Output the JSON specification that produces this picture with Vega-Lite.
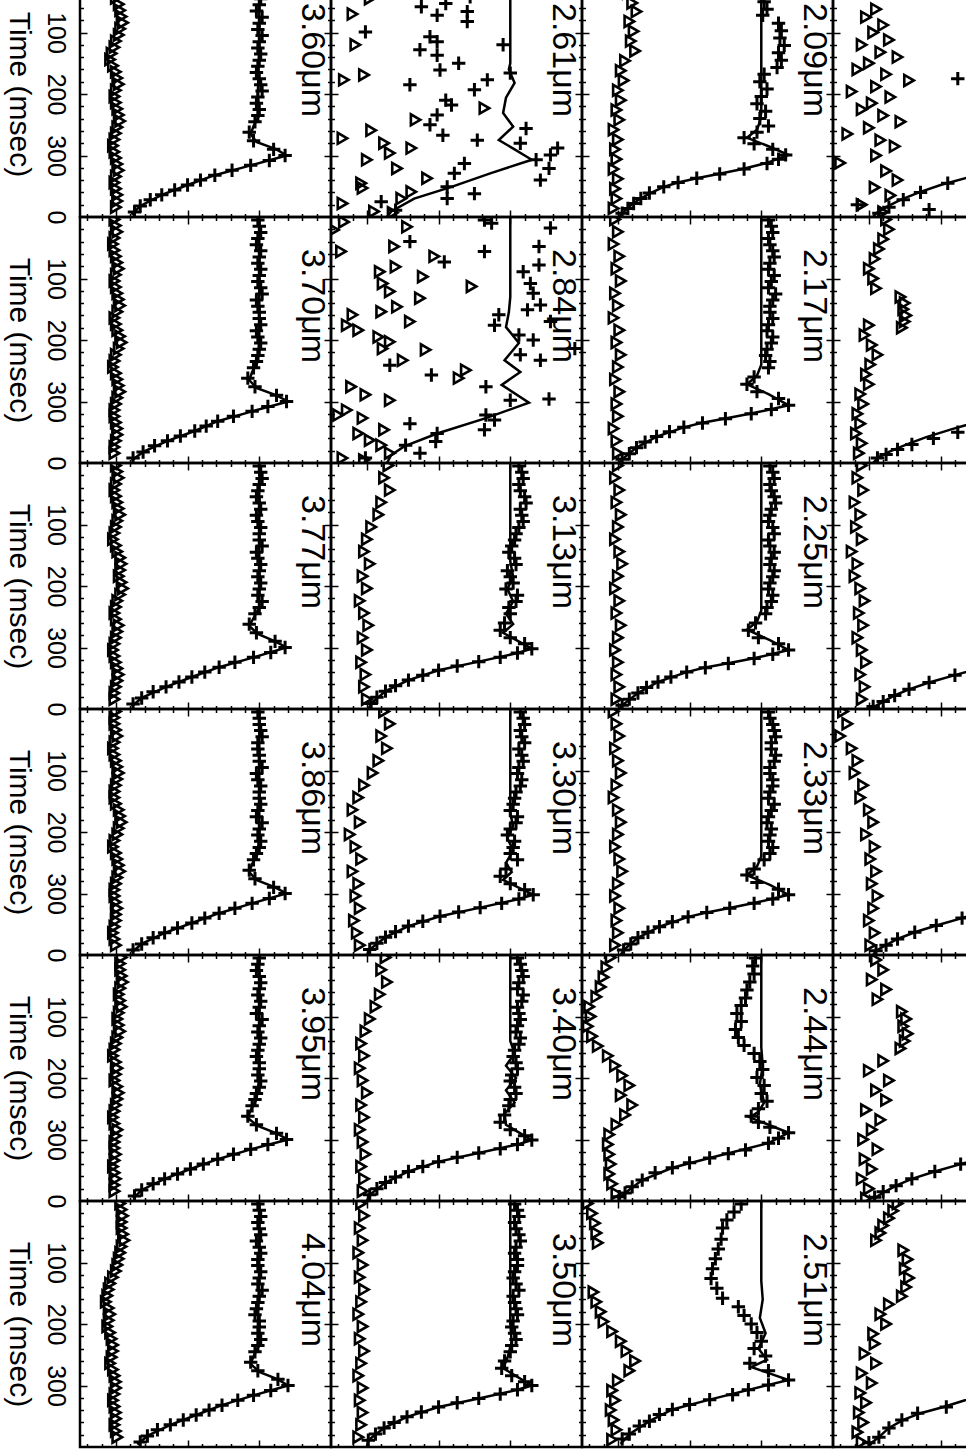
{
"$schema":"https://vega.github.io/schema/vega-lite/v6.json",
"padding":{"left":3,"top":-36,"right":0,"bottom":0},
"background":"white",
"config":{"view":{"stroke":"black","strokeWidth":2.5},"axis":{"tickColor":"black","tickWidth":1.5,"domain":false,"grid":false,"labels":false},"font":"Liberation Sans"},
"data":{"values":[
{"p":0,"s":"T","w":"3.60μm"},{"p":4,"s":"T","w":"3.70μm"},{"p":8,"s":"T","w":"3.77μm"},{"p":12,"s":"T","w":"3.86μm"},{"p":16,"s":"T","w":"3.95μm"},{"p":20,"s":"T","w":"4.04μm"},
{"p":1,"s":"T","w":"2.61μm"},{"p":5,"s":"T","w":"2.84μm"},{"p":9,"s":"T","w":"3.13μm"},{"p":13,"s":"T","w":"3.30μm"},{"p":17,"s":"T","w":"3.40μm"},{"p":21,"s":"T","w":"3.50μm"},
{"p":2,"s":"T","w":"2.09μm"},{"p":6,"s":"T","w":"2.17μm"},{"p":10,"s":"T","w":"2.25μm"},{"p":14,"s":"T","w":"2.33μm"},{"p":18,"s":"T","w":"2.44μm"},{"p":22,"s":"T","w":"2.51μm"},

{"p":0,"s":"+","t":5,"v":1.0},{"p":0,"s":"+","t":25,"v":0.99},{"p":0,"s":"+","t":45,"v":1.01},{"p":0,"s":"+","t":65,"v":0.98},{"p":0,"s":"+","t":85,"v":1.0},{"p":0,"s":"+","t":105,"v":1.02},{"p":0,"s":"+","t":125,"v":0.99},{"p":0,"s":"+","t":145,"v":1.0},{"p":0,"s":"+","t":165,"v":0.98},{"p":0,"s":"+","t":185,"v":1.01},{"p":0,"s":"+","t":205,"v":0.99},{"p":0,"s":"+","t":225,"v":1.0},{"p":0,"s":"+","t":245,"v":0.97},{"p":0,"s":"+","t":262,"v":0.93},{"p":0,"s":"+","t":276,"v":0.96},{"p":0,"s":"+","t":290,"v":1.1},{"p":0,"s":"+","t":300,"v":1.18},{"p":0,"s":"+","t":308,"v":1.07},{"p":0,"s":"+","t":316,"v":0.94},{"p":0,"s":"+","t":324,"v":0.81},{"p":0,"s":"+","t":332,"v":0.69},{"p":0,"s":"+","t":340,"v":0.59},{"p":0,"s":"+","t":348,"v":0.5},{"p":0,"s":"+","t":356,"v":0.41},{"p":0,"s":"+","t":364,"v":0.32},{"p":0,"s":"+","t":372,"v":0.24},{"p":0,"s":"+","t":382,"v":0.17},{"p":0,"s":"+","t":392,"v":0.13},
{"p":0,"s":"^","t":4,"v":0.01},{"p":0,"s":"^","t":24,"v":-0.02},{"p":0,"s":"^","t":44,"v":0.0},{"p":0,"s":"^","t":64,"v":0.03},{"p":0,"s":"^","t":84,"v":0.05},{"p":0,"s":"^","t":104,"v":0.02},{"p":0,"s":"^","t":124,"v":-0.01},{"p":0,"s":"^","t":144,"v":-0.04},{"p":0,"s":"^","t":164,"v":0.0},{"p":0,"s":"^","t":184,"v":0.02},{"p":0,"s":"^","t":204,"v":-0.01},{"p":0,"s":"^","t":224,"v":0.01},{"p":0,"s":"^","t":244,"v":0.03},{"p":0,"s":"^","t":264,"v":0.0},{"p":0,"s":"^","t":284,"v":-0.02},{"p":0,"s":"^","t":304,"v":0.0},{"p":0,"s":"^","t":324,"v":0.02},{"p":0,"s":"^","t":344,"v":-0.01},{"p":0,"s":"^","t":364,"v":0.01},{"p":0,"s":"^","t":384,"v":0.0},
{"p":0,"s":"L","t":0,"v":1.0},{"p":0,"s":"L","t":120,"v":1.0},{"p":0,"s":"L","t":200,"v":0.99},{"p":0,"s":"L","t":235,"v":1.0},{"p":0,"s":"L","t":252,"v":0.96},{"p":0,"s":"L","t":265,"v":0.94},{"p":0,"s":"L","t":278,"v":0.98},{"p":0,"s":"L","t":290,"v":1.12},{"p":0,"s":"L","t":300,"v":1.19},{"p":0,"s":"L","t":316,"v":0.94},{"p":0,"s":"L","t":332,"v":0.69},{"p":0,"s":"L","t":348,"v":0.5},{"p":0,"s":"L","t":364,"v":0.32},{"p":0,"s":"L","t":382,"v":0.17},{"p":0,"s":"L","t":396,"v":0.11},

{"p":4,"s":"+","t":5,"v":0.99},{"p":4,"s":"+","t":25,"v":1.01},{"p":4,"s":"+","t":45,"v":0.98},{"p":4,"s":"+","t":65,"v":1.0},{"p":4,"s":"+","t":85,"v":1.01},{"p":4,"s":"+","t":105,"v":0.99},{"p":4,"s":"+","t":125,"v":1.02},{"p":4,"s":"+","t":145,"v":0.99},{"p":4,"s":"+","t":165,"v":1.0},{"p":4,"s":"+","t":185,"v":0.98},{"p":4,"s":"+","t":205,"v":1.01},{"p":4,"s":"+","t":225,"v":0.99},{"p":4,"s":"+","t":245,"v":0.96},{"p":4,"s":"+","t":262,"v":0.92},{"p":4,"s":"+","t":276,"v":0.97},{"p":4,"s":"+","t":290,"v":1.12},{"p":4,"s":"+","t":300,"v":1.19},{"p":4,"s":"+","t":308,"v":1.06},{"p":4,"s":"+","t":316,"v":0.95},{"p":4,"s":"+","t":324,"v":0.82},{"p":4,"s":"+","t":332,"v":0.71},{"p":4,"s":"+","t":340,"v":0.63},{"p":4,"s":"+","t":348,"v":0.55},{"p":4,"s":"+","t":356,"v":0.45},{"p":4,"s":"+","t":364,"v":0.36},{"p":4,"s":"+","t":372,"v":0.27},{"p":4,"s":"+","t":382,"v":0.19},{"p":4,"s":"+","t":392,"v":0.12},
{"p":4,"s":"^","t":4,"v":-0.01},{"p":4,"s":"^","t":24,"v":0.01},{"p":4,"s":"^","t":44,"v":-0.02},{"p":4,"s":"^","t":64,"v":0.0},{"p":4,"s":"^","t":84,"v":0.02},{"p":4,"s":"^","t":104,"v":-0.01},{"p":4,"s":"^","t":124,"v":0.01},{"p":4,"s":"^","t":144,"v":0.03},{"p":4,"s":"^","t":164,"v":-0.01},{"p":4,"s":"^","t":184,"v":0.01},{"p":4,"s":"^","t":204,"v":0.04},{"p":4,"s":"^","t":224,"v":0.0},{"p":4,"s":"^","t":244,"v":-0.02},{"p":4,"s":"^","t":264,"v":0.01},{"p":4,"s":"^","t":284,"v":0.03},{"p":4,"s":"^","t":304,"v":0.0},{"p":4,"s":"^","t":324,"v":-0.01},{"p":4,"s":"^","t":344,"v":0.01},{"p":4,"s":"^","t":364,"v":0.0},{"p":4,"s":"^","t":384,"v":-0.01},
{"p":4,"s":"L","t":0,"v":1.0},{"p":4,"s":"L","t":120,"v":1.0},{"p":4,"s":"L","t":200,"v":1.0},{"p":4,"s":"L","t":235,"v":0.99},{"p":4,"s":"L","t":252,"v":0.95},{"p":4,"s":"L","t":265,"v":0.93},{"p":4,"s":"L","t":278,"v":0.98},{"p":4,"s":"L","t":290,"v":1.12},{"p":4,"s":"L","t":300,"v":1.2},{"p":4,"s":"L","t":316,"v":0.95},{"p":4,"s":"L","t":332,"v":0.71},{"p":4,"s":"L","t":348,"v":0.55},{"p":4,"s":"L","t":364,"v":0.36},{"p":4,"s":"L","t":382,"v":0.19},{"p":4,"s":"L","t":396,"v":0.11},

{"p":8,"s":"+","t":5,"v":1.0},{"p":8,"s":"+","t":25,"v":1.02},{"p":8,"s":"+","t":45,"v":0.99},{"p":8,"s":"+","t":65,"v":1.0},{"p":8,"s":"+","t":85,"v":0.98},{"p":8,"s":"+","t":105,"v":1.01},{"p":8,"s":"+","t":125,"v":1.0},{"p":8,"s":"+","t":145,"v":0.98},{"p":8,"s":"+","t":165,"v":1.01},{"p":8,"s":"+","t":185,"v":0.99},{"p":8,"s":"+","t":205,"v":1.0},{"p":8,"s":"+","t":225,"v":1.02},{"p":8,"s":"+","t":245,"v":0.97},{"p":8,"s":"+","t":262,"v":0.93},{"p":8,"s":"+","t":276,"v":0.98},{"p":8,"s":"+","t":290,"v":1.11},{"p":8,"s":"+","t":300,"v":1.18},{"p":8,"s":"+","t":308,"v":1.08},{"p":8,"s":"+","t":316,"v":0.96},{"p":8,"s":"+","t":324,"v":0.83},{"p":8,"s":"+","t":332,"v":0.72},{"p":8,"s":"+","t":340,"v":0.62},{"p":8,"s":"+","t":348,"v":0.53},{"p":8,"s":"+","t":356,"v":0.44},{"p":8,"s":"+","t":364,"v":0.35},{"p":8,"s":"+","t":372,"v":0.26},{"p":8,"s":"+","t":382,"v":0.18},{"p":8,"s":"+","t":392,"v":0.12},
{"p":8,"s":"^","t":4,"v":0.0},{"p":8,"s":"^","t":24,"v":0.02},{"p":8,"s":"^","t":44,"v":-0.01},{"p":8,"s":"^","t":64,"v":0.01},{"p":8,"s":"^","t":84,"v":0.03},{"p":8,"s":"^","t":104,"v":0.0},{"p":8,"s":"^","t":124,"v":-0.02},{"p":8,"s":"^","t":144,"v":0.01},{"p":8,"s":"^","t":164,"v":0.04},{"p":8,"s":"^","t":184,"v":0.02},{"p":8,"s":"^","t":204,"v":0.05},{"p":8,"s":"^","t":224,"v":0.01},{"p":8,"s":"^","t":244,"v":-0.01},{"p":8,"s":"^","t":264,"v":0.02},{"p":8,"s":"^","t":284,"v":0.0},{"p":8,"s":"^","t":304,"v":-0.02},{"p":8,"s":"^","t":324,"v":0.0},{"p":8,"s":"^","t":344,"v":0.02},{"p":8,"s":"^","t":364,"v":0.0},{"p":8,"s":"^","t":384,"v":-0.01},
{"p":8,"s":"L","t":0,"v":1.0},{"p":8,"s":"L","t":120,"v":1.0},{"p":8,"s":"L","t":200,"v":1.0},{"p":8,"s":"L","t":235,"v":1.0},{"p":8,"s":"L","t":252,"v":0.96},{"p":8,"s":"L","t":265,"v":0.93},{"p":8,"s":"L","t":278,"v":0.99},{"p":8,"s":"L","t":290,"v":1.11},{"p":8,"s":"L","t":300,"v":1.19},{"p":8,"s":"L","t":316,"v":0.96},{"p":8,"s":"L","t":332,"v":0.72},{"p":8,"s":"L","t":348,"v":0.53},{"p":8,"s":"L","t":364,"v":0.35},{"p":8,"s":"L","t":382,"v":0.18},{"p":8,"s":"L","t":396,"v":0.11},

{"p":12,"s":"+","t":5,"v":0.99},{"p":12,"s":"+","t":25,"v":1.0},{"p":12,"s":"+","t":45,"v":1.02},{"p":12,"s":"+","t":65,"v":0.99},{"p":12,"s":"+","t":85,"v":1.0},{"p":12,"s":"+","t":105,"v":0.98},{"p":12,"s":"+","t":125,"v":1.01},{"p":12,"s":"+","t":145,"v":1.0},{"p":12,"s":"+","t":165,"v":0.99},{"p":12,"s":"+","t":185,"v":1.02},{"p":12,"s":"+","t":205,"v":0.99},{"p":12,"s":"+","t":225,"v":1.0},{"p":12,"s":"+","t":245,"v":0.96},{"p":12,"s":"+","t":262,"v":0.93},{"p":12,"s":"+","t":276,"v":0.97},{"p":12,"s":"+","t":290,"v":1.1},{"p":12,"s":"+","t":300,"v":1.18},{"p":12,"s":"+","t":308,"v":1.07},{"p":12,"s":"+","t":316,"v":0.95},{"p":12,"s":"+","t":324,"v":0.83},{"p":12,"s":"+","t":332,"v":0.72},{"p":12,"s":"+","t":340,"v":0.62},{"p":12,"s":"+","t":348,"v":0.53},{"p":12,"s":"+","t":356,"v":0.43},{"p":12,"s":"+","t":364,"v":0.34},{"p":12,"s":"+","t":372,"v":0.26},{"p":12,"s":"+","t":382,"v":0.18},{"p":12,"s":"+","t":392,"v":0.12},
{"p":12,"s":"^","t":4,"v":0.0},{"p":12,"s":"^","t":24,"v":-0.01},{"p":12,"s":"^","t":44,"v":0.01},{"p":12,"s":"^","t":64,"v":-0.02},{"p":12,"s":"^","t":84,"v":0.0},{"p":12,"s":"^","t":104,"v":0.02},{"p":12,"s":"^","t":124,"v":0.0},{"p":12,"s":"^","t":144,"v":-0.01},{"p":12,"s":"^","t":164,"v":0.02},{"p":12,"s":"^","t":184,"v":0.04},{"p":12,"s":"^","t":204,"v":0.01},{"p":12,"s":"^","t":224,"v":-0.02},{"p":12,"s":"^","t":244,"v":0.01},{"p":12,"s":"^","t":264,"v":0.03},{"p":12,"s":"^","t":284,"v":0.0},{"p":12,"s":"^","t":304,"v":-0.01},{"p":12,"s":"^","t":324,"v":0.01},{"p":12,"s":"^","t":344,"v":0.0},{"p":12,"s":"^","t":364,"v":-0.02},{"p":12,"s":"^","t":384,"v":0.0},
{"p":12,"s":"L","t":0,"v":1.0},{"p":12,"s":"L","t":120,"v":1.0},{"p":12,"s":"L","t":200,"v":1.0},{"p":12,"s":"L","t":235,"v":0.99},{"p":12,"s":"L","t":252,"v":0.95},{"p":12,"s":"L","t":265,"v":0.93},{"p":12,"s":"L","t":278,"v":0.98},{"p":12,"s":"L","t":290,"v":1.11},{"p":12,"s":"L","t":300,"v":1.19},{"p":12,"s":"L","t":316,"v":0.95},{"p":12,"s":"L","t":332,"v":0.72},{"p":12,"s":"L","t":348,"v":0.53},{"p":12,"s":"L","t":364,"v":0.34},{"p":12,"s":"L","t":382,"v":0.18},{"p":12,"s":"L","t":396,"v":0.11},

{"p":16,"s":"+","t":5,"v":1.0},{"p":16,"s":"+","t":25,"v":0.98},{"p":16,"s":"+","t":45,"v":1.01},{"p":16,"s":"+","t":65,"v":0.99},{"p":16,"s":"+","t":85,"v":1.0},{"p":16,"s":"+","t":105,"v":1.02},{"p":16,"s":"+","t":125,"v":0.99},{"p":16,"s":"+","t":145,"v":1.0},{"p":16,"s":"+","t":165,"v":0.98},{"p":16,"s":"+","t":185,"v":1.0},{"p":16,"s":"+","t":205,"v":1.01},{"p":16,"s":"+","t":225,"v":0.98},{"p":16,"s":"+","t":245,"v":0.95},{"p":16,"s":"+","t":262,"v":0.92},{"p":16,"s":"+","t":276,"v":0.98},{"p":16,"s":"+","t":290,"v":1.12},{"p":16,"s":"+","t":300,"v":1.19},{"p":16,"s":"+","t":308,"v":1.06},{"p":16,"s":"+","t":316,"v":0.94},{"p":16,"s":"+","t":324,"v":0.82},{"p":16,"s":"+","t":332,"v":0.71},{"p":16,"s":"+","t":340,"v":0.61},{"p":16,"s":"+","t":348,"v":0.52},{"p":16,"s":"+","t":356,"v":0.43},{"p":16,"s":"+","t":364,"v":0.34},{"p":16,"s":"+","t":372,"v":0.26},{"p":16,"s":"+","t":382,"v":0.18},{"p":16,"s":"+","t":392,"v":0.13},
{"p":16,"s":"^","t":4,"v":0.04},{"p":16,"s":"^","t":24,"v":0.03},{"p":16,"s":"^","t":44,"v":0.05},{"p":16,"s":"^","t":64,"v":0.02},{"p":16,"s":"^","t":84,"v":0.04},{"p":16,"s":"^","t":104,"v":0.01},{"p":16,"s":"^","t":124,"v":0.03},{"p":16,"s":"^","t":144,"v":0.0},{"p":16,"s":"^","t":164,"v":-0.02},{"p":16,"s":"^","t":184,"v":0.01},{"p":16,"s":"^","t":204,"v":-0.01},{"p":16,"s":"^","t":224,"v":0.02},{"p":16,"s":"^","t":244,"v":0.0},{"p":16,"s":"^","t":264,"v":-0.02},{"p":16,"s":"^","t":284,"v":0.01},{"p":16,"s":"^","t":304,"v":-0.01},{"p":16,"s":"^","t":324,"v":0.0},{"p":16,"s":"^","t":344,"v":-0.02},{"p":16,"s":"^","t":364,"v":0.0},{"p":16,"s":"^","t":384,"v":-0.01},
{"p":16,"s":"L","t":0,"v":1.0},{"p":16,"s":"L","t":120,"v":1.0},{"p":16,"s":"L","t":200,"v":1.0},{"p":16,"s":"L","t":235,"v":0.98},{"p":16,"s":"L","t":252,"v":0.94},{"p":16,"s":"L","t":265,"v":0.92},{"p":16,"s":"L","t":278,"v":0.99},{"p":16,"s":"L","t":290,"v":1.12},{"p":16,"s":"L","t":300,"v":1.2},{"p":16,"s":"L","t":316,"v":0.94},{"p":16,"s":"L","t":332,"v":0.71},{"p":16,"s":"L","t":348,"v":0.52},{"p":16,"s":"L","t":364,"v":0.34},{"p":16,"s":"L","t":382,"v":0.18},{"p":16,"s":"L","t":396,"v":0.12},

{"p":20,"s":"+","t":5,"v":0.99},{"p":20,"s":"+","t":25,"v":1.01},{"p":20,"s":"+","t":45,"v":1.0},{"p":20,"s":"+","t":65,"v":0.98},{"p":20,"s":"+","t":85,"v":1.01},{"p":20,"s":"+","t":105,"v":0.99},{"p":20,"s":"+","t":125,"v":1.0},{"p":20,"s":"+","t":145,"v":1.02},{"p":20,"s":"+","t":165,"v":0.99},{"p":20,"s":"+","t":185,"v":0.97},{"p":20,"s":"+","t":205,"v":1.0},{"p":20,"s":"+","t":225,"v":1.01},{"p":20,"s":"+","t":245,"v":0.97},{"p":20,"s":"+","t":262,"v":0.94},{"p":20,"s":"+","t":276,"v":0.99},{"p":20,"s":"+","t":290,"v":1.13},{"p":20,"s":"+","t":300,"v":1.2},{"p":20,"s":"+","t":308,"v":1.08},{"p":20,"s":"+","t":316,"v":0.96},{"p":20,"s":"+","t":324,"v":0.85},{"p":20,"s":"+","t":332,"v":0.74},{"p":20,"s":"+","t":340,"v":0.65},{"p":20,"s":"+","t":348,"v":0.56},{"p":20,"s":"+","t":356,"v":0.47},{"p":20,"s":"+","t":364,"v":0.38},{"p":20,"s":"+","t":372,"v":0.29},{"p":20,"s":"+","t":382,"v":0.22},{"p":20,"s":"+","t":392,"v":0.17},
{"p":20,"s":"^","t":4,"v":0.03},{"p":20,"s":"^","t":24,"v":0.05},{"p":20,"s":"^","t":44,"v":0.04},{"p":20,"s":"^","t":64,"v":0.06},{"p":20,"s":"^","t":84,"v":0.03},{"p":20,"s":"^","t":104,"v":0.01},{"p":20,"s":"^","t":124,"v":-0.02},{"p":20,"s":"^","t":144,"v":-0.05},{"p":20,"s":"^","t":164,"v":-0.07},{"p":20,"s":"^","t":184,"v":-0.04},{"p":20,"s":"^","t":204,"v":-0.06},{"p":20,"s":"^","t":224,"v":-0.03},{"p":20,"s":"^","t":244,"v":-0.02},{"p":20,"s":"^","t":264,"v":-0.04},{"p":20,"s":"^","t":284,"v":-0.01},{"p":20,"s":"^","t":304,"v":0.0},{"p":20,"s":"^","t":324,"v":-0.02},{"p":20,"s":"^","t":344,"v":0.0},{"p":20,"s":"^","t":364,"v":-0.01},{"p":20,"s":"^","t":384,"v":0.01},
{"p":20,"s":"L","t":0,"v":1.0},{"p":20,"s":"L","t":120,"v":1.0},{"p":20,"s":"L","t":200,"v":0.99},{"p":20,"s":"L","t":235,"v":1.0},{"p":20,"s":"L","t":252,"v":0.96},{"p":20,"s":"L","t":265,"v":0.94},{"p":20,"s":"L","t":278,"v":1.0},{"p":20,"s":"L","t":290,"v":1.13},{"p":20,"s":"L","t":300,"v":1.2},{"p":20,"s":"L","t":316,"v":0.96},{"p":20,"s":"L","t":332,"v":0.74},{"p":20,"s":"L","t":348,"v":0.56},{"p":20,"s":"L","t":364,"v":0.38},{"p":20,"s":"L","t":382,"v":0.22},{"p":20,"s":"L","t":396,"v":0.15},

{"p":1,"s":"+","t":35,"v":0.62},{"p":1,"s":"+","t":42,"v":0.72},{"p":1,"s":"+","t":58,"v":0.38},{"p":1,"s":"+","t":53,"v":0.55},{"p":1,"s":"+","t":66,"v":0.7},{"p":1,"s":"+","t":82,"v":0.7},{"p":1,"s":"+","t":72,"v":0.49},{"p":1,"s":"+","t":99,"v":-0.01},{"p":1,"s":"+","t":107,"v":0.44},{"p":1,"s":"+","t":115,"v":0.49},{"p":1,"s":"+","t":128,"v":0.37},{"p":1,"s":"+","t":137,"v":0.49},{"p":1,"s":"+","t":161,"v":0.51},{"p":1,"s":"+","t":150,"v":0.64},{"p":1,"s":"+","t":120,"v":0.95},{"p":1,"s":"+","t":166,"v":1.0},{"p":1,"s":"+","t":185,"v":0.3},{"p":1,"s":"+","t":193,"v":0.75},{"p":1,"s":"+","t":177,"v":0.84},{"p":1,"s":"+","t":210,"v":0.55},{"p":1,"s":"+","t":218,"v":0.59},{"p":1,"s":"+","t":234,"v":0.49},{"p":1,"s":"+","t":250,"v":0.44},{"p":1,"s":"+","t":267,"v":0.53},{"p":1,"s":"+","t":275,"v":0.77},{"p":1,"s":"+","t":256,"v":1.11},{"p":1,"s":"+","t":280,"v":1.07},{"p":1,"s":"+","t":288,"v":1.33},{"p":1,"s":"+","t":299,"v":1.28},{"p":1,"s":"+","t":307,"v":1.18},{"p":1,"s":"+","t":321,"v":1.27},{"p":1,"s":"+","t":340,"v":1.21},{"p":1,"s":"+","t":313,"v":0.68},{"p":1,"s":"+","t":329,"v":0.61},{"p":1,"s":"+","t":351,"v":0.56},{"p":1,"s":"+","t":370,"v":0.56},{"p":1,"s":"+","t":362,"v":0.75},{"p":1,"s":"+","t":375,"v":0.1},{"p":1,"s":"+","t":389,"v":0.2},
{"p":1,"s":"^","t":45,"v":0.02},{"p":1,"s":"^","t":70,"v":-0.1},{"p":1,"s":"^","t":120,"v":-0.08},{"p":1,"s":"^","t":169,"v":-0.02},{"p":1,"s":"^","t":177,"v":-0.16},{"p":1,"s":"^","t":223,"v":0.82},{"p":1,"s":"^","t":242,"v":0.34},{"p":1,"s":"^","t":259,"v":0.03},{"p":1,"s":"^","t":272,"v":-0.17},{"p":1,"s":"^","t":280,"v":0.12},{"p":1,"s":"^","t":288,"v":0.31},{"p":1,"s":"^","t":296,"v":0.16},{"p":1,"s":"^","t":307,"v":0.0},{"p":1,"s":"^","t":321,"v":0.21},{"p":1,"s":"^","t":345,"v":-0.04},{"p":1,"s":"^","t":353,"v":-0.03},{"p":1,"s":"^","t":337,"v":0.42},{"p":1,"s":"^","t":359,"v":0.31},{"p":1,"s":"^","t":370,"v":0.24},{"p":1,"s":"^","t":378,"v":-0.17},{"p":1,"s":"^","t":391,"v":0.05},{"p":1,"s":"^","t":393,"v":0.18},
{"p":1,"s":"L","t":0,"v":1.0},{"p":1,"s":"L","t":150,"v":1.0},{"p":1,"s":"L","t":160,"v":0.99},{"p":1,"s":"L","t":182,"v":1.03},{"p":1,"s":"L","t":206,"v":0.97},{"p":1,"s":"L","t":231,"v":0.95},{"p":1,"s":"L","t":253,"v":1.02},{"p":1,"s":"L","t":275,"v":0.92},{"p":1,"s":"L","t":290,"v":1.03},{"p":1,"s":"L","t":307,"v":1.15},{"p":1,"s":"L","t":329,"v":0.86},{"p":1,"s":"L","t":351,"v":0.59},{"p":1,"s":"L","t":370,"v":0.33},{"p":1,"s":"L","t":391,"v":0.17},{"p":1,"s":"L","t":400,"v":0.14},

{"p":5,"s":"+","t":5,"v":0.82},{"p":5,"s":"+","t":10,"v":0.87},{"p":5,"s":"+","t":18,"v":1.28},{"p":5,"s":"+","t":40,"v":0.3},{"p":5,"s":"+","t":56,"v":0.82},{"p":5,"s":"+","t":73,"v":0.54},{"p":5,"s":"+","t":48,"v":1.2},{"p":5,"s":"+","t":78,"v":1.2},{"p":5,"s":"+","t":89,"v":1.09},{"p":5,"s":"+","t":108,"v":1.14},{"p":5,"s":"+","t":124,"v":1.16},{"p":5,"s":"+","t":143,"v":1.21},{"p":5,"s":"+","t":151,"v":1.12},{"p":5,"s":"+","t":159,"v":0.92},{"p":5,"s":"+","t":176,"v":0.89},{"p":5,"s":"+","t":192,"v":1.06},{"p":5,"s":"+","t":200,"v":1.16},{"p":5,"s":"+","t":170,"v":1.28},{"p":5,"s":"+","t":224,"v":1.07},{"p":5,"s":"+","t":233,"v":1.21},{"p":5,"s":"+","t":214,"v":1.45},{"p":5,"s":"+","t":241,"v":0.16},{"p":5,"s":"+","t":257,"v":0.45},{"p":5,"s":"+","t":276,"v":0.83},{"p":5,"s":"+","t":298,"v":1.0},{"p":5,"s":"+","t":296,"v":1.27},{"p":5,"s":"+","t":322,"v":0.83},{"p":5,"s":"+","t":330,"v":0.89},{"p":5,"s":"+","t":346,"v":0.82},{"p":5,"s":"+","t":352,"v":0.49},{"p":5,"s":"+","t":365,"v":0.48},{"p":5,"s":"+","t":336,"v":0.3},{"p":5,"s":"+","t":371,"v":0.27},{"p":5,"s":"+","t":384,"v":0.37},{"p":5,"s":"+","t":392,"v":-0.01},
{"p":5,"s":"^","t":21,"v":-0.23},{"p":5,"s":"^","t":8,"v":-0.16},{"p":5,"s":"^","t":16,"v":0.28},{"p":5,"s":"^","t":48,"v":0.19},{"p":5,"s":"^","t":56,"v":-0.18},{"p":5,"s":"^","t":64,"v":0.47},{"p":5,"s":"^","t":81,"v":0.2},{"p":5,"s":"^","t":89,"v":0.09},{"p":5,"s":"^","t":97,"v":0.39},{"p":5,"s":"^","t":113,"v":0.73},{"p":5,"s":"^","t":108,"v":0.11},{"p":5,"s":"^","t":121,"v":0.16},{"p":5,"s":"^","t":132,"v":0.37},{"p":5,"s":"^","t":146,"v":0.21},{"p":5,"s":"^","t":154,"v":0.1},{"p":5,"s":"^","t":170,"v":0.3},{"p":5,"s":"^","t":159,"v":-0.1},{"p":5,"s":"^","t":176,"v":-0.14},{"p":5,"s":"^","t":184,"v":-0.06},{"p":5,"s":"^","t":195,"v":0.08},{"p":5,"s":"^","t":203,"v":0.16},{"p":5,"s":"^","t":214,"v":0.11},{"p":5,"s":"^","t":216,"v":0.41},{"p":5,"s":"^","t":233,"v":0.25},{"p":5,"s":"^","t":249,"v":0.69},{"p":5,"s":"^","t":262,"v":0.64},{"p":5,"s":"^","t":276,"v":-0.11},{"p":5,"s":"^","t":289,"v":-0.01},{"p":5,"s":"^","t":298,"v":0.16},{"p":5,"s":"^","t":322,"v":-0.2},{"p":5,"s":"^","t":314,"v":-0.14},{"p":5,"s":"^","t":327,"v":-0.03},{"p":5,"s":"^","t":352,"v":-0.06},{"p":5,"s":"^","t":346,"v":0.12},{"p":5,"s":"^","t":363,"v":0.02},{"p":5,"s":"^","t":371,"v":0.1},{"p":5,"s":"^","t":384,"v":0.16},{"p":5,"s":"^","t":392,"v":-0.17},{"p":5,"s":"^","t":395,"v":-0.02},
{"p":5,"s":"L","t":0,"v":1.0},{"p":5,"s":"L","t":130,"v":1.0},{"p":5,"s":"L","t":155,"v":0.99},{"p":5,"s":"L","t":179,"v":0.97},{"p":5,"s":"L","t":205,"v":1.06},{"p":5,"s":"L","t":233,"v":0.96},{"p":5,"s":"L","t":252,"v":1.07},{"p":5,"s":"L","t":273,"v":0.94},{"p":5,"s":"L","t":302,"v":1.13},{"p":5,"s":"L","t":327,"v":0.83},{"p":5,"s":"L","t":352,"v":0.49},{"p":5,"s":"L","t":373,"v":0.26},{"p":5,"s":"L","t":387,"v":0.17},{"p":5,"s":"L","t":400,"v":0.14},

{"p":9,"s":"+","t":5,"v":1.06},{"p":9,"s":"+","t":25,"v":1.09},{"p":9,"s":"+","t":45,"v":1.07},{"p":9,"s":"+","t":65,"v":1.11},{"p":9,"s":"+","t":85,"v":1.08},{"p":9,"s":"+","t":105,"v":1.06},{"p":9,"s":"+","t":125,"v":1.03},{"p":9,"s":"+","t":145,"v":0.99},{"p":9,"s":"+","t":165,"v":1.04},{"p":9,"s":"+","t":185,"v":1.0},{"p":9,"s":"+","t":205,"v":0.97},{"p":9,"s":"+","t":225,"v":1.04},{"p":9,"s":"+","t":245,"v":1.0},{"p":9,"s":"+","t":260,"v":0.96},{"p":9,"s":"+","t":272,"v":0.93},{"p":9,"s":"+","t":284,"v":1.0},{"p":9,"s":"+","t":294,"v":1.1},{"p":9,"s":"+","t":302,"v":1.15},{"p":9,"s":"+","t":309,"v":1.05},{"p":9,"s":"+","t":316,"v":0.93},{"p":9,"s":"+","t":323,"v":0.78},{"p":9,"s":"+","t":330,"v":0.63},{"p":9,"s":"+","t":337,"v":0.5},{"p":9,"s":"+","t":345,"v":0.39},{"p":9,"s":"+","t":353,"v":0.29},{"p":9,"s":"+","t":362,"v":0.2},{"p":9,"s":"+","t":371,"v":0.13},{"p":9,"s":"+","t":381,"v":0.07},{"p":9,"s":"+","t":391,"v":0.03},
{"p":9,"s":"^","t":4,"v":0.15},{"p":9,"s":"^","t":24,"v":0.12},{"p":9,"s":"^","t":44,"v":0.16},{"p":9,"s":"^","t":64,"v":0.1},{"p":9,"s":"^","t":84,"v":0.08},{"p":9,"s":"^","t":104,"v":0.03},{"p":9,"s":"^","t":124,"v":0.0},{"p":9,"s":"^","t":144,"v":-0.02},{"p":9,"s":"^","t":164,"v":0.02},{"p":9,"s":"^","t":184,"v":-0.03},{"p":9,"s":"^","t":204,"v":0.0},{"p":9,"s":"^","t":224,"v":-0.05},{"p":9,"s":"^","t":244,"v":-0.02},{"p":9,"s":"^","t":264,"v":0.01},{"p":9,"s":"^","t":284,"v":-0.03},{"p":9,"s":"^","t":304,"v":0.0},{"p":9,"s":"^","t":324,"v":-0.04},{"p":9,"s":"^","t":344,"v":-0.01},{"p":9,"s":"^","t":364,"v":-0.02},{"p":9,"s":"^","t":384,"v":0.0},
{"p":9,"s":"L","t":0,"v":1.0},{"p":9,"s":"L","t":160,"v":1.0},{"p":9,"s":"L","t":185,"v":1.02},{"p":9,"s":"L","t":205,"v":0.98},{"p":9,"s":"L","t":225,"v":1.02},{"p":9,"s":"L","t":245,"v":0.97},{"p":9,"s":"L","t":262,"v":1.02},{"p":9,"s":"L","t":276,"v":0.95},{"p":9,"s":"L","t":302,"v":1.15},{"p":9,"s":"L","t":309,"v":1.05},{"p":9,"s":"L","t":323,"v":0.78},{"p":9,"s":"L","t":337,"v":0.5},{"p":9,"s":"L","t":353,"v":0.29},{"p":9,"s":"L","t":371,"v":0.13},{"p":9,"s":"L","t":391,"v":0.03},{"p":9,"s":"L","t":400,"v":0.01},

{"p":13,"s":"+","t":5,"v":1.07},{"p":13,"s":"+","t":25,"v":1.1},{"p":13,"s":"+","t":45,"v":1.08},{"p":13,"s":"+","t":65,"v":1.06},{"p":13,"s":"+","t":85,"v":1.09},{"p":13,"s":"+","t":105,"v":1.05},{"p":13,"s":"+","t":125,"v":1.07},{"p":13,"s":"+","t":145,"v":1.03},{"p":13,"s":"+","t":165,"v":1.0},{"p":13,"s":"+","t":185,"v":1.04},{"p":13,"s":"+","t":205,"v":0.98},{"p":13,"s":"+","t":225,"v":1.02},{"p":13,"s":"+","t":245,"v":1.05},{"p":13,"s":"+","t":260,"v":0.97},{"p":13,"s":"+","t":272,"v":0.93},{"p":13,"s":"+","t":284,"v":1.0},{"p":13,"s":"+","t":294,"v":1.1},{"p":13,"s":"+","t":302,"v":1.16},{"p":13,"s":"+","t":309,"v":1.06},{"p":13,"s":"+","t":316,"v":0.94},{"p":13,"s":"+","t":323,"v":0.79},{"p":13,"s":"+","t":330,"v":0.64},{"p":13,"s":"+","t":337,"v":0.51},{"p":13,"s":"+","t":345,"v":0.39},{"p":13,"s":"+","t":353,"v":0.29},{"p":13,"s":"+","t":362,"v":0.2},{"p":13,"s":"+","t":371,"v":0.13},{"p":13,"s":"+","t":381,"v":0.07},{"p":13,"s":"+","t":391,"v":0.02},
{"p":13,"s":"^","t":4,"v":0.12},{"p":13,"s":"^","t":24,"v":0.16},{"p":13,"s":"^","t":44,"v":0.1},{"p":13,"s":"^","t":64,"v":0.14},{"p":13,"s":"^","t":84,"v":0.08},{"p":13,"s":"^","t":104,"v":0.04},{"p":13,"s":"^","t":124,"v":-0.02},{"p":13,"s":"^","t":144,"v":-0.06},{"p":13,"s":"^","t":164,"v":-0.1},{"p":13,"s":"^","t":184,"v":-0.05},{"p":13,"s":"^","t":204,"v":-0.12},{"p":13,"s":"^","t":224,"v":-0.08},{"p":13,"s":"^","t":244,"v":-0.04},{"p":13,"s":"^","t":264,"v":-0.1},{"p":13,"s":"^","t":284,"v":-0.06},{"p":13,"s":"^","t":304,"v":-0.08},{"p":13,"s":"^","t":324,"v":-0.05},{"p":13,"s":"^","t":344,"v":-0.09},{"p":13,"s":"^","t":364,"v":-0.07},{"p":13,"s":"^","t":384,"v":-0.05},
{"p":13,"s":"L","t":0,"v":1.0},{"p":13,"s":"L","t":170,"v":1.0},{"p":13,"s":"L","t":190,"v":1.02},{"p":13,"s":"L","t":210,"v":0.98},{"p":13,"s":"L","t":230,"v":1.02},{"p":13,"s":"L","t":250,"v":0.97},{"p":13,"s":"L","t":265,"v":1.01},{"p":13,"s":"L","t":278,"v":0.95},{"p":13,"s":"L","t":302,"v":1.16},{"p":13,"s":"L","t":309,"v":1.06},{"p":13,"s":"L","t":323,"v":0.79},{"p":13,"s":"L","t":337,"v":0.51},{"p":13,"s":"L","t":353,"v":0.29},{"p":13,"s":"L","t":371,"v":0.13},{"p":13,"s":"L","t":391,"v":0.02},{"p":13,"s":"L","t":400,"v":0.0},

{"p":17,"s":"+","t":5,"v":1.05},{"p":17,"s":"+","t":25,"v":1.08},{"p":17,"s":"+","t":45,"v":1.06},{"p":17,"s":"+","t":65,"v":1.09},{"p":17,"s":"+","t":85,"v":1.05},{"p":17,"s":"+","t":105,"v":1.07},{"p":17,"s":"+","t":125,"v":1.04},{"p":17,"s":"+","t":145,"v":1.06},{"p":17,"s":"+","t":165,"v":1.02},{"p":17,"s":"+","t":185,"v":1.05},{"p":17,"s":"+","t":205,"v":1.0},{"p":17,"s":"+","t":225,"v":1.04},{"p":17,"s":"+","t":245,"v":0.99},{"p":17,"s":"+","t":260,"v":0.96},{"p":17,"s":"+","t":272,"v":0.93},{"p":17,"s":"+","t":284,"v":1.0},{"p":17,"s":"+","t":294,"v":1.1},{"p":17,"s":"+","t":301,"v":1.15},{"p":17,"s":"+","t":308,"v":1.05},{"p":17,"s":"+","t":315,"v":0.93},{"p":17,"s":"+","t":322,"v":0.78},{"p":17,"s":"+","t":329,"v":0.63},{"p":17,"s":"+","t":336,"v":0.5},{"p":17,"s":"+","t":344,"v":0.39},{"p":17,"s":"+","t":352,"v":0.29},{"p":17,"s":"+","t":361,"v":0.2},{"p":17,"s":"+","t":370,"v":0.13},{"p":17,"s":"+","t":380,"v":0.07},{"p":17,"s":"+","t":390,"v":0.02},
{"p":17,"s":"^","t":4,"v":0.13},{"p":17,"s":"^","t":24,"v":0.1},{"p":17,"s":"^","t":44,"v":0.14},{"p":17,"s":"^","t":64,"v":0.09},{"p":17,"s":"^","t":84,"v":0.06},{"p":17,"s":"^","t":104,"v":0.02},{"p":17,"s":"^","t":124,"v":-0.01},{"p":17,"s":"^","t":144,"v":-0.04},{"p":17,"s":"^","t":164,"v":-0.02},{"p":17,"s":"^","t":184,"v":-0.05},{"p":17,"s":"^","t":204,"v":-0.03},{"p":17,"s":"^","t":224,"v":0.0},{"p":17,"s":"^","t":244,"v":-0.04},{"p":17,"s":"^","t":264,"v":-0.02},{"p":17,"s":"^","t":284,"v":-0.05},{"p":17,"s":"^","t":304,"v":-0.03},{"p":17,"s":"^","t":324,"v":-0.01},{"p":17,"s":"^","t":344,"v":-0.04},{"p":17,"s":"^","t":364,"v":-0.02},{"p":17,"s":"^","t":384,"v":-0.03},
{"p":17,"s":"L","t":0,"v":1.0},{"p":17,"s":"L","t":140,"v":1.0},{"p":17,"s":"L","t":160,"v":1.03},{"p":17,"s":"L","t":180,"v":0.97},{"p":17,"s":"L","t":200,"v":1.04},{"p":17,"s":"L","t":220,"v":0.97},{"p":17,"s":"L","t":240,"v":1.03},{"p":17,"s":"L","t":258,"v":0.96},{"p":17,"s":"L","t":276,"v":0.97},{"p":17,"s":"L","t":301,"v":1.15},{"p":17,"s":"L","t":308,"v":1.05},{"p":17,"s":"L","t":322,"v":0.78},{"p":17,"s":"L","t":336,"v":0.5},{"p":17,"s":"L","t":352,"v":0.29},{"p":17,"s":"L","t":370,"v":0.13},{"p":17,"s":"L","t":390,"v":0.02},{"p":17,"s":"L","t":400,"v":0.0},

{"p":21,"s":"+","t":5,"v":1.03},{"p":21,"s":"+","t":25,"v":1.06},{"p":21,"s":"+","t":45,"v":1.04},{"p":21,"s":"+","t":65,"v":1.07},{"p":21,"s":"+","t":85,"v":1.03},{"p":21,"s":"+","t":105,"v":1.05},{"p":21,"s":"+","t":125,"v":1.02},{"p":21,"s":"+","t":145,"v":1.06},{"p":21,"s":"+","t":165,"v":1.03},{"p":21,"s":"+","t":185,"v":1.05},{"p":21,"s":"+","t":205,"v":1.01},{"p":21,"s":"+","t":225,"v":1.04},{"p":21,"s":"+","t":245,"v":1.0},{"p":21,"s":"+","t":260,"v":0.96},{"p":21,"s":"+","t":272,"v":0.94},{"p":21,"s":"+","t":284,"v":1.01},{"p":21,"s":"+","t":294,"v":1.1},{"p":21,"s":"+","t":300,"v":1.15},{"p":21,"s":"+","t":307,"v":1.05},{"p":21,"s":"+","t":314,"v":0.93},{"p":21,"s":"+","t":321,"v":0.78},{"p":21,"s":"+","t":328,"v":0.63},{"p":21,"s":"+","t":335,"v":0.5},{"p":21,"s":"+","t":343,"v":0.38},{"p":21,"s":"+","t":351,"v":0.28},{"p":21,"s":"+","t":360,"v":0.19},{"p":21,"s":"+","t":369,"v":0.12},{"p":21,"s":"+","t":379,"v":0.06},{"p":21,"s":"+","t":389,"v":0.01},
{"p":21,"s":"^","t":4,"v":-0.04},{"p":21,"s":"^","t":24,"v":-0.02},{"p":21,"s":"^","t":44,"v":-0.05},{"p":21,"s":"^","t":64,"v":-0.03},{"p":21,"s":"^","t":84,"v":-0.06},{"p":21,"s":"^","t":104,"v":-0.03},{"p":21,"s":"^","t":124,"v":-0.05},{"p":21,"s":"^","t":144,"v":-0.02},{"p":21,"s":"^","t":164,"v":-0.04},{"p":21,"s":"^","t":184,"v":-0.06},{"p":21,"s":"^","t":204,"v":-0.03},{"p":21,"s":"^","t":224,"v":-0.05},{"p":21,"s":"^","t":244,"v":-0.02},{"p":21,"s":"^","t":264,"v":-0.04},{"p":21,"s":"^","t":284,"v":-0.06},{"p":21,"s":"^","t":304,"v":-0.03},{"p":21,"s":"^","t":324,"v":-0.05},{"p":21,"s":"^","t":344,"v":-0.03},{"p":21,"s":"^","t":364,"v":-0.04},{"p":21,"s":"^","t":384,"v":-0.06},
{"p":21,"s":"L","t":0,"v":1.0},{"p":21,"s":"L","t":200,"v":1.0},{"p":21,"s":"L","t":230,"v":1.01},{"p":21,"s":"L","t":255,"v":0.98},{"p":21,"s":"L","t":272,"v":0.95},{"p":21,"s":"L","t":300,"v":1.15},{"p":21,"s":"L","t":307,"v":1.05},{"p":21,"s":"L","t":321,"v":0.78},{"p":21,"s":"L","t":335,"v":0.5},{"p":21,"s":"L","t":351,"v":0.28},{"p":21,"s":"L","t":369,"v":0.12},{"p":21,"s":"L","t":389,"v":0.01},{"p":21,"s":"L","t":400,"v":0.0},

{"p":2,"s":"+","t":5,"v":1.01},{"p":2,"s":"+","t":20,"v":1.0},{"p":2,"s":"+","t":35,"v":0.99},{"p":2,"s":"+","t":50,"v":1.02},{"p":2,"s":"+","t":62,"v":1.04},{"p":2,"s":"+","t":72,"v":1.01},{"p":2,"s":"+","t":85,"v":1.12},{"p":2,"s":"+","t":97,"v":1.14},{"p":2,"s":"+","t":109,"v":1.13},{"p":2,"s":"+","t":121,"v":1.16},{"p":2,"s":"+","t":133,"v":1.12},{"p":2,"s":"+","t":145,"v":1.14},{"p":2,"s":"+","t":157,"v":1.11},{"p":2,"s":"+","t":168,"v":1.02},{"p":2,"s":"+","t":180,"v":0.99},{"p":2,"s":"+","t":192,"v":1.04},{"p":2,"s":"+","t":204,"v":1.0},{"p":2,"s":"+","t":216,"v":0.97},{"p":2,"s":"+","t":228,"v":1.03},{"p":2,"s":"+","t":240,"v":0.99},{"p":2,"s":"+","t":252,"v":1.05},{"p":2,"s":"+","t":262,"v":0.97},{"p":2,"s":"+","t":271,"v":0.88},{"p":2,"s":"+","t":281,"v":0.95},{"p":2,"s":"+","t":290,"v":1.08},{"p":2,"s":"+","t":299,"v":1.17},{"p":2,"s":"+","t":306,"v":1.12},{"p":2,"s":"+","t":313,"v":1.04},{"p":2,"s":"+","t":322,"v":0.88},{"p":2,"s":"+","t":330,"v":0.71},{"p":2,"s":"+","t":337,"v":0.55},{"p":2,"s":"+","t":344,"v":0.42},{"p":2,"s":"+","t":351,"v":0.32},{"p":2,"s":"+","t":361,"v":0.22},{"p":2,"s":"+","t":370,"v":0.16},{"p":2,"s":"+","t":378,"v":0.11},{"p":2,"s":"+","t":386,"v":0.07},{"p":2,"s":"+","t":394,"v":0.03},
{"p":2,"s":"^","t":4,"v":0.08},{"p":2,"s":"^","t":20,"v":0.1},{"p":2,"s":"^","t":36,"v":0.07},{"p":2,"s":"^","t":52,"v":0.1},{"p":2,"s":"^","t":66,"v":0.13},{"p":2,"s":"^","t":82,"v":0.08},{"p":2,"s":"^","t":98,"v":0.11},{"p":2,"s":"^","t":114,"v":0.09},{"p":2,"s":"^","t":130,"v":0.12},{"p":2,"s":"^","t":146,"v":0.05},{"p":2,"s":"^","t":162,"v":0.02},{"p":2,"s":"^","t":178,"v":0.04},{"p":2,"s":"^","t":194,"v":0.0},{"p":2,"s":"^","t":210,"v":0.02},{"p":2,"s":"^","t":226,"v":-0.01},{"p":2,"s":"^","t":242,"v":0.01},{"p":2,"s":"^","t":258,"v":-0.03},{"p":2,"s":"^","t":274,"v":0.0},{"p":2,"s":"^","t":290,"v":-0.02},{"p":2,"s":"^","t":306,"v":-0.01},{"p":2,"s":"^","t":322,"v":-0.03},{"p":2,"s":"^","t":338,"v":0.0},{"p":2,"s":"^","t":354,"v":-0.02},{"p":2,"s":"^","t":370,"v":-0.01},{"p":2,"s":"^","t":386,"v":-0.03},
{"p":2,"s":"L","t":0,"v":1.0},{"p":2,"s":"L","t":230,"v":1.0},{"p":2,"s":"L","t":245,"v":0.99},{"p":2,"s":"L","t":258,"v":0.97},{"p":2,"s":"L","t":271,"v":0.9},{"p":2,"s":"L","t":285,"v":1.05},{"p":2,"s":"L","t":299,"v":1.19},{"p":2,"s":"L","t":312,"v":1.04},{"p":2,"s":"L","t":322,"v":0.87},{"p":2,"s":"L","t":330,"v":0.7},{"p":2,"s":"L","t":337,"v":0.55},{"p":2,"s":"L","t":344,"v":0.42},{"p":2,"s":"L","t":351,"v":0.32},{"p":2,"s":"L","t":362,"v":0.22},{"p":2,"s":"L","t":370,"v":0.16},{"p":2,"s":"L","t":378,"v":0.105},{"p":2,"s":"L","t":386,"v":0.066},{"p":2,"s":"L","t":394,"v":0.03},{"p":2,"s":"L","t":400,"v":0.01},

{"p":6,"s":"+","t":5,"v":1.05},{"p":6,"s":"+","t":25,"v":1.08},{"p":6,"s":"+","t":45,"v":1.06},{"p":6,"s":"+","t":65,"v":1.09},{"p":6,"s":"+","t":85,"v":1.05},{"p":6,"s":"+","t":105,"v":1.07},{"p":6,"s":"+","t":125,"v":1.1},{"p":6,"s":"+","t":145,"v":1.06},{"p":6,"s":"+","t":165,"v":1.08},{"p":6,"s":"+","t":185,"v":1.04},{"p":6,"s":"+","t":205,"v":1.07},{"p":6,"s":"+","t":225,"v":1.03},{"p":6,"s":"+","t":245,"v":1.05},{"p":6,"s":"+","t":260,"v":0.95},{"p":6,"s":"+","t":272,"v":0.9},{"p":6,"s":"+","t":284,"v":0.97},{"p":6,"s":"+","t":295,"v":1.12},{"p":6,"s":"+","t":306,"v":1.19},{"p":6,"s":"+","t":313,"v":1.07},{"p":6,"s":"+","t":320,"v":0.93},{"p":6,"s":"+","t":328,"v":0.75},{"p":6,"s":"+","t":335,"v":0.59},{"p":6,"s":"+","t":342,"v":0.46},{"p":6,"s":"+","t":349,"v":0.36},{"p":6,"s":"+","t":357,"v":0.27},{"p":6,"s":"+","t":366,"v":0.19},{"p":6,"s":"+","t":375,"v":0.13},{"p":6,"s":"+","t":385,"v":0.08},{"p":6,"s":"+","t":394,"v":0.03},
{"p":6,"s":"^","t":4,"v":-0.02},{"p":6,"s":"^","t":24,"v":0.0},{"p":6,"s":"^","t":44,"v":-0.03},{"p":6,"s":"^","t":64,"v":0.01},{"p":6,"s":"^","t":84,"v":-0.01},{"p":6,"s":"^","t":104,"v":0.02},{"p":6,"s":"^","t":124,"v":-0.02},{"p":6,"s":"^","t":144,"v":0.0},{"p":6,"s":"^","t":164,"v":-0.03},{"p":6,"s":"^","t":184,"v":0.01},{"p":6,"s":"^","t":204,"v":-0.01},{"p":6,"s":"^","t":224,"v":0.02},{"p":6,"s":"^","t":244,"v":0.0},{"p":6,"s":"^","t":264,"v":-0.02},{"p":6,"s":"^","t":284,"v":0.01},{"p":6,"s":"^","t":304,"v":-0.01},{"p":6,"s":"^","t":324,"v":0.0},{"p":6,"s":"^","t":344,"v":-0.03},{"p":6,"s":"^","t":364,"v":-0.01},{"p":6,"s":"^","t":384,"v":0.0},
{"p":6,"s":"L","t":0,"v":1.0},{"p":6,"s":"L","t":240,"v":1.0},{"p":6,"s":"L","t":258,"v":0.97},{"p":6,"s":"L","t":272,"v":0.9},{"p":6,"s":"L","t":288,"v":1.05},{"p":6,"s":"L","t":306,"v":1.19},{"p":6,"s":"L","t":313,"v":1.06},{"p":6,"s":"L","t":320,"v":0.92},{"p":6,"s":"L","t":328,"v":0.74},{"p":6,"s":"L","t":335,"v":0.58},{"p":6,"s":"L","t":342,"v":0.46},{"p":6,"s":"L","t":357,"v":0.27},{"p":6,"s":"L","t":375,"v":0.13},{"p":6,"s":"L","t":394,"v":0.03},{"p":6,"s":"L","t":400,"v":0.01},

{"p":10,"s":"+","t":5,"v":1.06},{"p":10,"s":"+","t":25,"v":1.09},{"p":10,"s":"+","t":45,"v":1.07},{"p":10,"s":"+","t":65,"v":1.1},{"p":10,"s":"+","t":85,"v":1.06},{"p":10,"s":"+","t":105,"v":1.08},{"p":10,"s":"+","t":125,"v":1.05},{"p":10,"s":"+","t":145,"v":1.09},{"p":10,"s":"+","t":165,"v":1.06},{"p":10,"s":"+","t":185,"v":1.08},{"p":10,"s":"+","t":205,"v":1.05},{"p":10,"s":"+","t":225,"v":1.07},{"p":10,"s":"+","t":245,"v":1.03},{"p":10,"s":"+","t":260,"v":0.96},{"p":10,"s":"+","t":272,"v":0.91},{"p":10,"s":"+","t":284,"v":0.98},{"p":10,"s":"+","t":294,"v":1.12},{"p":10,"s":"+","t":304,"v":1.19},{"p":10,"s":"+","t":311,"v":1.08},{"p":10,"s":"+","t":318,"v":0.95},{"p":10,"s":"+","t":326,"v":0.77},{"p":10,"s":"+","t":333,"v":0.61},{"p":10,"s":"+","t":340,"v":0.48},{"p":10,"s":"+","t":348,"v":0.37},{"p":10,"s":"+","t":356,"v":0.28},{"p":10,"s":"+","t":365,"v":0.2},{"p":10,"s":"+","t":374,"v":0.14},{"p":10,"s":"+","t":384,"v":0.08},{"p":10,"s":"+","t":394,"v":0.03},
{"p":10,"s":"^","t":4,"v":0.0},{"p":10,"s":"^","t":24,"v":-0.02},{"p":10,"s":"^","t":44,"v":0.01},{"p":10,"s":"^","t":64,"v":-0.01},{"p":10,"s":"^","t":84,"v":0.02},{"p":10,"s":"^","t":104,"v":0.0},{"p":10,"s":"^","t":124,"v":-0.02},{"p":10,"s":"^","t":144,"v":0.01},{"p":10,"s":"^","t":164,"v":0.03},{"p":10,"s":"^","t":184,"v":0.0},{"p":10,"s":"^","t":204,"v":-0.02},{"p":10,"s":"^","t":224,"v":0.01},{"p":10,"s":"^","t":244,"v":-0.01},{"p":10,"s":"^","t":264,"v":0.02},{"p":10,"s":"^","t":284,"v":0.0},{"p":10,"s":"^","t":304,"v":-0.02},{"p":10,"s":"^","t":324,"v":0.0},{"p":10,"s":"^","t":344,"v":-0.01},{"p":10,"s":"^","t":364,"v":0.01},{"p":10,"s":"^","t":384,"v":-0.01},
{"p":10,"s":"L","t":0,"v":1.0},{"p":10,"s":"L","t":240,"v":1.0},{"p":10,"s":"L","t":258,"v":0.97},{"p":10,"s":"L","t":271,"v":0.9},{"p":10,"s":"L","t":288,"v":1.06},{"p":10,"s":"L","t":304,"v":1.19},{"p":10,"s":"L","t":311,"v":1.07},{"p":10,"s":"L","t":318,"v":0.94},{"p":10,"s":"L","t":326,"v":0.76},{"p":10,"s":"L","t":333,"v":0.6},{"p":10,"s":"L","t":340,"v":0.48},{"p":10,"s":"L","t":356,"v":0.28},{"p":10,"s":"L","t":374,"v":0.14},{"p":10,"s":"L","t":394,"v":0.03},{"p":10,"s":"L","t":400,"v":0.01},

{"p":14,"s":"+","t":5,"v":1.05},{"p":14,"s":"+","t":25,"v":1.08},{"p":14,"s":"+","t":45,"v":1.1},{"p":14,"s":"+","t":65,"v":1.07},{"p":14,"s":"+","t":85,"v":1.09},{"p":14,"s":"+","t":105,"v":1.06},{"p":14,"s":"+","t":125,"v":1.08},{"p":14,"s":"+","t":145,"v":1.05},{"p":14,"s":"+","t":165,"v":1.07},{"p":14,"s":"+","t":185,"v":1.04},{"p":14,"s":"+","t":205,"v":1.06},{"p":14,"s":"+","t":225,"v":1.08},{"p":14,"s":"+","t":245,"v":1.02},{"p":14,"s":"+","t":260,"v":0.95},{"p":14,"s":"+","t":270,"v":0.9},{"p":14,"s":"+","t":282,"v":0.97},{"p":14,"s":"+","t":293,"v":1.12},{"p":14,"s":"+","t":302,"v":1.19},{"p":14,"s":"+","t":309,"v":1.08},{"p":14,"s":"+","t":316,"v":0.95},{"p":14,"s":"+","t":324,"v":0.78},{"p":14,"s":"+","t":331,"v":0.62},{"p":14,"s":"+","t":338,"v":0.49},{"p":14,"s":"+","t":346,"v":0.38},{"p":14,"s":"+","t":354,"v":0.29},{"p":14,"s":"+","t":363,"v":0.21},{"p":14,"s":"+","t":372,"v":0.14},{"p":14,"s":"+","t":382,"v":0.09},{"p":14,"s":"+","t":392,"v":0.04},
{"p":14,"s":"^","t":4,"v":-0.03},{"p":14,"s":"^","t":24,"v":-0.01},{"p":14,"s":"^","t":44,"v":0.01},{"p":14,"s":"^","t":64,"v":-0.02},{"p":14,"s":"^","t":84,"v":0.0},{"p":14,"s":"^","t":104,"v":0.02},{"p":14,"s":"^","t":124,"v":-0.01},{"p":14,"s":"^","t":144,"v":-0.03},{"p":14,"s":"^","t":164,"v":0.0},{"p":14,"s":"^","t":184,"v":0.02},{"p":14,"s":"^","t":204,"v":0.0},{"p":14,"s":"^","t":224,"v":-0.02},{"p":14,"s":"^","t":244,"v":0.01},{"p":14,"s":"^","t":264,"v":0.03},{"p":14,"s":"^","t":284,"v":0.0},{"p":14,"s":"^","t":304,"v":-0.02},{"p":14,"s":"^","t":324,"v":0.01},{"p":14,"s":"^","t":344,"v":-0.01},{"p":14,"s":"^","t":364,"v":0.0},{"p":14,"s":"^","t":384,"v":-0.02},
{"p":14,"s":"L","t":0,"v":1.0},{"p":14,"s":"L","t":240,"v":1.0},{"p":14,"s":"L","t":256,"v":0.97},{"p":14,"s":"L","t":270,"v":0.9},{"p":14,"s":"L","t":286,"v":1.06},{"p":14,"s":"L","t":302,"v":1.19},{"p":14,"s":"L","t":309,"v":1.07},{"p":14,"s":"L","t":316,"v":0.94},{"p":14,"s":"L","t":324,"v":0.77},{"p":14,"s":"L","t":331,"v":0.62},{"p":14,"s":"L","t":338,"v":0.49},{"p":14,"s":"L","t":354,"v":0.29},{"p":14,"s":"L","t":372,"v":0.14},{"p":14,"s":"L","t":392,"v":0.04},{"p":14,"s":"L","t":400,"v":0.02},

{"p":18,"s":"+","t":5,"v":0.96},{"p":18,"s":"+","t":18,"v":0.94},{"p":18,"s":"+","t":31,"v":0.95},{"p":18,"s":"+","t":44,"v":0.92},{"p":18,"s":"+","t":57,"v":0.9},{"p":18,"s":"+","t":70,"v":0.89},{"p":18,"s":"+","t":82,"v":0.86},{"p":18,"s":"+","t":95,"v":0.83},{"p":18,"s":"+","t":108,"v":0.86},{"p":18,"s":"+","t":121,"v":0.82},{"p":18,"s":"+","t":134,"v":0.84},{"p":18,"s":"+","t":147,"v":0.88},{"p":18,"s":"+","t":160,"v":0.95},{"p":18,"s":"+","t":173,"v":0.99},{"p":18,"s":"+","t":186,"v":1.01},{"p":18,"s":"+","t":199,"v":0.97},{"p":18,"s":"+","t":212,"v":1.02},{"p":18,"s":"+","t":225,"v":1.0},{"p":18,"s":"+","t":238,"v":1.04},{"p":18,"s":"+","t":250,"v":0.98},{"p":18,"s":"+","t":262,"v":0.93},{"p":18,"s":"+","t":272,"v":0.98},{"p":18,"s":"+","t":280,"v":1.06},{"p":18,"s":"+","t":289,"v":1.19},{"p":18,"s":"+","t":298,"v":1.12},{"p":18,"s":"+","t":306,"v":1.05},{"p":18,"s":"+","t":317,"v":0.89},{"p":18,"s":"+","t":323,"v":0.77},{"p":18,"s":"+","t":330,"v":0.64},{"p":18,"s":"+","t":338,"v":0.5},{"p":18,"s":"+","t":346,"v":0.38},{"p":18,"s":"+","t":354,"v":0.26},{"p":18,"s":"+","t":366,"v":0.17},{"p":18,"s":"+","t":377,"v":0.1},{"p":18,"s":"+","t":387,"v":0.05},{"p":18,"s":"+","t":393,"v":0.01},
{"p":18,"s":"^","t":4,"v":-0.05},{"p":18,"s":"^","t":20,"v":-0.08},{"p":18,"s":"^","t":36,"v":-0.1},{"p":18,"s":"^","t":52,"v":-0.12},{"p":18,"s":"^","t":68,"v":-0.15},{"p":18,"s":"^","t":84,"v":-0.2},{"p":18,"s":"^","t":100,"v":-0.19},{"p":18,"s":"^","t":116,"v":-0.21},{"p":18,"s":"^","t":132,"v":-0.18},{"p":18,"s":"^","t":148,"v":-0.14},{"p":18,"s":"^","t":164,"v":-0.07},{"p":18,"s":"^","t":180,"v":-0.02},{"p":18,"s":"^","t":196,"v":0.03},{"p":18,"s":"^","t":212,"v":0.08},{"p":18,"s":"^","t":228,"v":0.02},{"p":18,"s":"^","t":244,"v":0.1},{"p":18,"s":"^","t":260,"v":0.05},{"p":18,"s":"^","t":276,"v":-0.01},{"p":18,"s":"^","t":292,"v":-0.06},{"p":18,"s":"^","t":308,"v":-0.07},{"p":18,"s":"^","t":324,"v":-0.06},{"p":18,"s":"^","t":340,"v":-0.05},{"p":18,"s":"^","t":356,"v":-0.06},{"p":18,"s":"^","t":372,"v":-0.04},{"p":18,"s":"^","t":388,"v":-0.01},
{"p":18,"s":"L","t":0,"v":1.0},{"p":18,"s":"L","t":150,"v":1.0},{"p":18,"s":"L","t":180,"v":1.01},{"p":18,"s":"L","t":210,"v":0.99},{"p":18,"s":"L","t":240,"v":1.02},{"p":18,"s":"L","t":255,"v":0.98},{"p":18,"s":"L","t":264,"v":0.92},{"p":18,"s":"L","t":289,"v":1.19},{"p":18,"s":"L","t":306,"v":1.05},{"p":18,"s":"L","t":330,"v":0.64},{"p":18,"s":"L","t":346,"v":0.38},{"p":18,"s":"L","t":366,"v":0.17},{"p":18,"s":"L","t":387,"v":0.05},{"p":18,"s":"L","t":398,"v":0.0},

{"p":22,"s":"+","t":5,"v":0.86},{"p":22,"s":"+","t":18,"v":0.81},{"p":22,"s":"+","t":31,"v":0.76},{"p":22,"s":"+","t":44,"v":0.73},{"p":22,"s":"+","t":62,"v":0.72},{"p":22,"s":"+","t":78,"v":0.7},{"p":22,"s":"+","t":94,"v":0.68},{"p":22,"s":"+","t":110,"v":0.66},{"p":22,"s":"+","t":126,"v":0.65},{"p":22,"s":"+","t":142,"v":0.69},{"p":22,"s":"+","t":158,"v":0.73},{"p":22,"s":"+","t":172,"v":0.84},{"p":22,"s":"+","t":186,"v":0.88},{"p":22,"s":"+","t":200,"v":0.93},{"p":22,"s":"+","t":214,"v":0.97},{"p":22,"s":"+","t":228,"v":1.0},{"p":22,"s":"+","t":240,"v":0.95},{"p":22,"s":"+","t":252,"v":1.03},{"p":22,"s":"+","t":264,"v":0.92},{"p":22,"s":"+","t":276,"v":1.05},{"p":22,"s":"+","t":291,"v":1.19},{"p":22,"s":"+","t":299,"v":1.05},{"p":22,"s":"+","t":307,"v":0.91},{"p":22,"s":"+","t":315,"v":0.8},{"p":22,"s":"+","t":323,"v":0.64},{"p":22,"s":"+","t":331,"v":0.5},{"p":22,"s":"+","t":339,"v":0.38},{"p":22,"s":"+","t":347,"v":0.29},{"p":22,"s":"+","t":358,"v":0.22},{"p":22,"s":"+","t":366,"v":0.15},{"p":22,"s":"+","t":379,"v":0.08},{"p":22,"s":"+","t":387,"v":0.03},
{"p":22,"s":"^","t":4,"v":-0.21},{"p":22,"s":"^","t":20,"v":-0.18},{"p":22,"s":"^","t":36,"v":-0.16},{"p":22,"s":"^","t":52,"v":-0.15},{"p":22,"s":"^","t":68,"v":-0.14},{"p":22,"s":"^","t":148,"v":-0.17},{"p":22,"s":"^","t":164,"v":-0.15},{"p":22,"s":"^","t":180,"v":-0.12},{"p":22,"s":"^","t":196,"v":-0.1},{"p":22,"s":"^","t":212,"v":-0.04},{"p":22,"s":"^","t":228,"v":0.02},{"p":22,"s":"^","t":244,"v":0.06},{"p":22,"s":"^","t":260,"v":0.12},{"p":22,"s":"^","t":276,"v":0.08},{"p":22,"s":"^","t":292,"v":0.0},{"p":22,"s":"^","t":308,"v":-0.04},{"p":22,"s":"^","t":324,"v":-0.02},{"p":22,"s":"^","t":340,"v":-0.05},{"p":22,"s":"^","t":356,"v":-0.03},{"p":22,"s":"^","t":372,"v":-0.01},{"p":22,"s":"^","t":388,"v":-0.04},
{"p":22,"s":"L","t":0,"v":1.0},{"p":22,"s":"L","t":130,"v":1.0},{"p":22,"s":"L","t":160,"v":1.01},{"p":22,"s":"L","t":190,"v":0.99},{"p":22,"s":"L","t":215,"v":1.03},{"p":22,"s":"L","t":240,"v":0.98},{"p":22,"s":"L","t":258,"v":1.04},{"p":22,"s":"L","t":270,"v":0.93},{"p":22,"s":"L","t":291,"v":1.19},{"p":22,"s":"L","t":299,"v":1.05},{"p":22,"s":"L","t":323,"v":0.64},{"p":22,"s":"L","t":339,"v":0.38},{"p":22,"s":"L","t":358,"v":0.22},{"p":22,"s":"L","t":379,"v":0.08},{"p":22,"s":"L","t":395,"v":0.02},

{"p":3,"s":"^","t":62,"v":0.05},{"p":3,"s":"^","t":75,"v":-0.02},{"p":3,"s":"^","t":88,"v":0.1},{"p":3,"s":"^","t":100,"v":0.03},{"p":3,"s":"^","t":112,"v":0.14},{"p":3,"s":"^","t":120,"v":-0.05},{"p":3,"s":"^","t":132,"v":0.08},{"p":3,"s":"^","t":140,"v":0.2},{"p":3,"s":"^","t":150,"v":0.0},{"p":3,"s":"^","t":160,"v":-0.08},{"p":3,"s":"^","t":168,"v":0.12},{"p":3,"s":"^","t":178,"v":0.28},{"p":3,"s":"^","t":188,"v":0.05},{"p":3,"s":"^","t":196,"v":-0.12},{"p":3,"s":"^","t":205,"v":0.15},{"p":3,"s":"^","t":215,"v":0.02},{"p":3,"s":"^","t":225,"v":-0.05},{"p":3,"s":"^","t":235,"v":0.1},{"p":3,"s":"^","t":245,"v":0.22},{"p":3,"s":"^","t":255,"v":0.0},{"p":3,"s":"^","t":265,"v":-0.15},{"p":3,"s":"^","t":275,"v":0.08},{"p":3,"s":"^","t":285,"v":0.18},{"p":3,"s":"^","t":300,"v":0.05},{"p":3,"s":"^","t":312,"v":-0.2},{"p":3,"s":"^","t":325,"v":0.12},{"p":3,"s":"^","t":340,"v":0.2},{"p":3,"s":"^","t":352,"v":0.04},{"p":3,"s":"^","t":365,"v":0.15},{"p":3,"s":"^","t":380,"v":-0.05},{"p":3,"s":"^","t":392,"v":0.1},
{"p":3,"s":"+","t":175,"v":0.62},{"p":3,"s":"+","t":330,"v":0.82},{"p":3,"s":"+","t":345,"v":0.55},{"p":3,"s":"+","t":360,"v":0.36},{"p":3,"s":"+","t":372,"v":0.24},{"p":3,"s":"+","t":380,"v":-0.08},{"p":3,"s":"+","t":384,"v":0.14},{"p":3,"s":"+","t":388,"v":0.42},{"p":3,"s":"+","t":394,"v":0.07},
{"p":3,"s":"L","t":300,"v":1.18},{"p":3,"s":"L","t":320,"v":0.92},{"p":3,"s":"L","t":335,"v":0.7},{"p":3,"s":"L","t":348,"v":0.5},{"p":3,"s":"L","t":360,"v":0.35},{"p":3,"s":"L","t":372,"v":0.22},{"p":3,"s":"L","t":384,"v":0.12},{"p":3,"s":"L","t":394,"v":0.05},{"p":3,"s":"L","t":400,"v":0.03},

{"p":7,"s":"^","t":4,"v":0.12},{"p":7,"s":"^","t":20,"v":0.14},{"p":7,"s":"^","t":36,"v":0.1},{"p":7,"s":"^","t":52,"v":0.07},{"p":7,"s":"^","t":68,"v":0.04},{"p":7,"s":"^","t":84,"v":0.0},{"p":7,"s":"^","t":100,"v":0.03},{"p":7,"s":"^","t":116,"v":0.05},{"p":7,"s":"^","t":130,"v":0.22},{"p":7,"s":"^","t":140,"v":0.25},{"p":7,"s":"^","t":150,"v":0.24},{"p":7,"s":"^","t":160,"v":0.26},{"p":7,"s":"^","t":170,"v":0.25},{"p":7,"s":"^","t":180,"v":0.23},{"p":7,"s":"^","t":176,"v":0.0},{"p":7,"s":"^","t":192,"v":-0.03},{"p":7,"s":"^","t":208,"v":0.02},{"p":7,"s":"^","t":224,"v":0.06},{"p":7,"s":"^","t":240,"v":0.01},{"p":7,"s":"^","t":256,"v":-0.02},{"p":7,"s":"^","t":272,"v":0.0},{"p":7,"s":"^","t":288,"v":-0.06},{"p":7,"s":"^","t":304,"v":-0.04},{"p":7,"s":"^","t":320,"v":-0.08},{"p":7,"s":"^","t":336,"v":-0.06},{"p":7,"s":"^","t":352,"v":-0.09},{"p":7,"s":"^","t":368,"v":-0.05},{"p":7,"s":"^","t":384,"v":-0.07},
{"p":7,"s":"+","t":350,"v":0.62},{"p":7,"s":"+","t":360,"v":0.45},{"p":7,"s":"+","t":370,"v":0.3},{"p":7,"s":"+","t":378,"v":0.2},{"p":7,"s":"+","t":386,"v":0.12},{"p":7,"s":"+","t":392,"v":0.06},
{"p":7,"s":"L","t":300,"v":1.18},{"p":7,"s":"L","t":330,"v":0.8},{"p":7,"s":"L","t":345,"v":0.58},{"p":7,"s":"L","t":358,"v":0.4},{"p":7,"s":"L","t":370,"v":0.26},{"p":7,"s":"L","t":382,"v":0.14},{"p":7,"s":"L","t":392,"v":0.06},{"p":7,"s":"L","t":400,"v":0.03},

{"p":11,"s":"^","t":4,"v":-0.05},{"p":11,"s":"^","t":24,"v":-0.08},{"p":11,"s":"^","t":44,"v":-0.04},{"p":11,"s":"^","t":64,"v":-0.1},{"p":11,"s":"^","t":84,"v":-0.06},{"p":11,"s":"^","t":104,"v":-0.09},{"p":11,"s":"^","t":124,"v":-0.05},{"p":11,"s":"^","t":144,"v":-0.12},{"p":11,"s":"^","t":164,"v":-0.08},{"p":11,"s":"^","t":184,"v":-0.1},{"p":11,"s":"^","t":204,"v":-0.06},{"p":11,"s":"^","t":224,"v":-0.03},{"p":11,"s":"^","t":244,"v":-0.07},{"p":11,"s":"^","t":264,"v":-0.04},{"p":11,"s":"^","t":284,"v":-0.08},{"p":11,"s":"^","t":304,"v":-0.05},{"p":11,"s":"^","t":324,"v":-0.02},{"p":11,"s":"^","t":344,"v":-0.06},{"p":11,"s":"^","t":364,"v":-0.03},{"p":11,"s":"^","t":384,"v":-0.05},
{"p":11,"s":"+","t":345,"v":0.6},{"p":11,"s":"+","t":357,"v":0.42},{"p":11,"s":"+","t":368,"v":0.28},{"p":11,"s":"+","t":378,"v":0.18},{"p":11,"s":"+","t":388,"v":0.1},{"p":11,"s":"+","t":396,"v":0.03},
{"p":11,"s":"L","t":300,"v":1.18},{"p":11,"s":"L","t":330,"v":0.82},{"p":11,"s":"L","t":345,"v":0.6},{"p":11,"s":"L","t":357,"v":0.42},{"p":11,"s":"L","t":368,"v":0.28},{"p":11,"s":"L","t":378,"v":0.18},{"p":11,"s":"L","t":388,"v":0.1},{"p":11,"s":"L","t":396,"v":0.04},{"p":11,"s":"L","t":400,"v":0.02},

{"p":15,"s":"^","t":4,"v":-0.18},{"p":15,"s":"^","t":24,"v":-0.15},{"p":15,"s":"^","t":44,"v":-0.2},{"p":15,"s":"^","t":64,"v":-0.12},{"p":15,"s":"^","t":84,"v":-0.08},{"p":15,"s":"^","t":104,"v":-0.1},{"p":15,"s":"^","t":124,"v":-0.04},{"p":15,"s":"^","t":144,"v":-0.06},{"p":15,"s":"^","t":164,"v":0.0},{"p":15,"s":"^","t":184,"v":0.03},{"p":15,"s":"^","t":204,"v":-0.02},{"p":15,"s":"^","t":224,"v":0.04},{"p":15,"s":"^","t":244,"v":0.01},{"p":15,"s":"^","t":264,"v":0.05},{"p":15,"s":"^","t":284,"v":0.02},{"p":15,"s":"^","t":304,"v":0.06},{"p":15,"s":"^","t":324,"v":0.03},{"p":15,"s":"^","t":344,"v":0.0},{"p":15,"s":"^","t":364,"v":0.04},{"p":15,"s":"^","t":384,"v":0.01},
{"p":15,"s":"+","t":340,"v":0.65},{"p":15,"s":"+","t":352,"v":0.47},{"p":15,"s":"+","t":363,"v":0.32},{"p":15,"s":"+","t":374,"v":0.2},{"p":15,"s":"+","t":384,"v":0.12},{"p":15,"s":"+","t":393,"v":0.05},
{"p":15,"s":"L","t":300,"v":1.18},{"p":15,"s":"L","t":330,"v":0.78},{"p":15,"s":"L","t":340,"v":0.65},{"p":15,"s":"L","t":352,"v":0.47},{"p":15,"s":"L","t":363,"v":0.32},{"p":15,"s":"L","t":374,"v":0.2},{"p":15,"s":"L","t":384,"v":0.12},{"p":15,"s":"L","t":393,"v":0.05},{"p":15,"s":"L","t":400,"v":0.03},

{"p":19,"s":"^","t":8,"v":0.05},{"p":19,"s":"^","t":24,"v":0.1},{"p":19,"s":"^","t":40,"v":0.02},{"p":19,"s":"^","t":56,"v":0.12},{"p":19,"s":"^","t":72,"v":0.06},{"p":19,"s":"^","t":92,"v":0.23},{"p":19,"s":"^","t":104,"v":0.26},{"p":19,"s":"^","t":116,"v":0.24},{"p":19,"s":"^","t":128,"v":0.27},{"p":19,"s":"^","t":140,"v":0.25},{"p":19,"s":"^","t":152,"v":0.22},{"p":19,"s":"^","t":172,"v":0.1},{"p":19,"s":"^","t":188,"v":0.0},{"p":19,"s":"^","t":204,"v":0.14},{"p":19,"s":"^","t":220,"v":0.05},{"p":19,"s":"^","t":236,"v":0.12},{"p":19,"s":"^","t":252,"v":-0.02},{"p":19,"s":"^","t":268,"v":0.08},{"p":19,"s":"^","t":284,"v":0.02},{"p":19,"s":"^","t":300,"v":-0.04},{"p":19,"s":"^","t":316,"v":0.06},{"p":19,"s":"^","t":332,"v":-0.03},{"p":19,"s":"^","t":348,"v":0.02},{"p":19,"s":"^","t":364,"v":-0.05},{"p":19,"s":"^","t":380,"v":0.0},{"p":19,"s":"^","t":396,"v":-0.02},
{"p":19,"s":"+","t":340,"v":0.64},{"p":19,"s":"+","t":352,"v":0.46},{"p":19,"s":"+","t":364,"v":0.3},{"p":19,"s":"+","t":375,"v":0.19},{"p":19,"s":"+","t":385,"v":0.1},{"p":19,"s":"+","t":394,"v":0.04},
{"p":19,"s":"L","t":300,"v":1.18},{"p":19,"s":"L","t":330,"v":0.78},{"p":19,"s":"L","t":340,"v":0.64},{"p":19,"s":"L","t":352,"v":0.46},{"p":19,"s":"L","t":364,"v":0.3},{"p":19,"s":"L","t":375,"v":0.19},{"p":19,"s":"L","t":385,"v":0.11},{"p":19,"s":"L","t":394,"v":0.05},{"p":19,"s":"L","t":400,"v":0.03},

{"p":23,"s":"^","t":4,"v":0.2},{"p":23,"s":"^","t":16,"v":0.17},{"p":23,"s":"^","t":28,"v":0.14},{"p":23,"s":"^","t":40,"v":0.1},{"p":23,"s":"^","t":52,"v":0.08},{"p":23,"s":"^","t":64,"v":0.05},{"p":23,"s":"^","t":80,"v":0.24},{"p":23,"s":"^","t":95,"v":0.27},{"p":23,"s":"^","t":110,"v":0.25},{"p":23,"s":"^","t":125,"v":0.28},{"p":23,"s":"^","t":140,"v":0.26},{"p":23,"s":"^","t":155,"v":0.23},{"p":23,"s":"^","t":168,"v":0.14},{"p":23,"s":"^","t":184,"v":0.08},{"p":23,"s":"^","t":200,"v":0.12},{"p":23,"s":"^","t":216,"v":0.03},{"p":23,"s":"^","t":232,"v":0.04},{"p":23,"s":"^","t":248,"v":-0.03},{"p":23,"s":"^","t":264,"v":0.05},{"p":23,"s":"^","t":280,"v":-0.05},{"p":23,"s":"^","t":296,"v":0.02},{"p":23,"s":"^","t":312,"v":-0.06},{"p":23,"s":"^","t":328,"v":-0.02},{"p":23,"s":"^","t":344,"v":-0.07},{"p":23,"s":"^","t":360,"v":-0.04},{"p":23,"s":"^","t":376,"v":-0.08},{"p":23,"s":"^","t":392,"v":-0.05},
{"p":23,"s":"+","t":335,"v":0.54},{"p":23,"s":"+","t":345,"v":0.34},{"p":23,"s":"+","t":356,"v":0.23},{"p":23,"s":"+","t":369,"v":0.14},{"p":23,"s":"+","t":384,"v":0.07},{"p":23,"s":"+","t":393,"v":0.0},
{"p":23,"s":"L","t":300,"v":1.18},{"p":23,"s":"L","t":324,"v":0.67},{"p":23,"s":"L","t":335,"v":0.52},{"p":23,"s":"L","t":345,"v":0.36},{"p":23,"s":"L","t":356,"v":0.24},{"p":23,"s":"L","t":369,"v":0.14},{"p":23,"s":"L","t":384,"v":0.07},{"p":23,"s":"L","t":393,"v":0.02},{"p":23,"s":"L","t":400,"v":0.0},

{"p":0,"s":"+","t":15,"v":1.01},{"p":0,"s":"+","t":35,"v":0.99},{"p":0,"s":"+","t":55,"v":1.0},{"p":0,"s":"+","t":75,"v":1.02},{"p":0,"s":"+","t":95,"v":0.99},{"p":0,"s":"+","t":115,"v":1.0},{"p":0,"s":"+","t":135,"v":1.01},{"p":0,"s":"+","t":155,"v":0.99},{"p":0,"s":"+","t":175,"v":1.0},{"p":0,"s":"+","t":195,"v":1.02},{"p":0,"s":"+","t":215,"v":0.98},{"p":0,"s":"+","t":235,"v":0.99},
{"p":4,"s":"+","t":15,"v":1.0},{"p":4,"s":"+","t":35,"v":0.99},{"p":4,"s":"+","t":55,"v":1.01},{"p":4,"s":"+","t":75,"v":0.99},{"p":4,"s":"+","t":95,"v":1.0},{"p":4,"s":"+","t":115,"v":1.01},{"p":4,"s":"+","t":135,"v":0.98},{"p":4,"s":"+","t":155,"v":1.0},{"p":4,"s":"+","t":175,"v":1.01},{"p":4,"s":"+","t":195,"v":0.99},{"p":4,"s":"+","t":215,"v":1.0},{"p":4,"s":"+","t":235,"v":0.98},
{"p":8,"s":"+","t":15,"v":1.01},{"p":8,"s":"+","t":35,"v":1.0},{"p":8,"s":"+","t":55,"v":0.98},{"p":8,"s":"+","t":75,"v":1.01},{"p":8,"s":"+","t":95,"v":0.99},{"p":8,"s":"+","t":115,"v":1.0},{"p":8,"s":"+","t":135,"v":1.02},{"p":8,"s":"+","t":155,"v":0.99},{"p":8,"s":"+","t":175,"v":1.0},{"p":8,"s":"+","t":195,"v":1.01},{"p":8,"s":"+","t":215,"v":0.99},{"p":8,"s":"+","t":235,"v":1.0},
{"p":12,"s":"+","t":15,"v":1.0},{"p":12,"s":"+","t":35,"v":1.01},{"p":12,"s":"+","t":55,"v":0.99},{"p":12,"s":"+","t":75,"v":1.0},{"p":12,"s":"+","t":95,"v":1.02},{"p":12,"s":"+","t":115,"v":0.99},{"p":12,"s":"+","t":135,"v":1.0},{"p":12,"s":"+","t":155,"v":1.01},{"p":12,"s":"+","t":175,"v":0.98},{"p":12,"s":"+","t":195,"v":1.0},{"p":12,"s":"+","t":215,"v":1.01},{"p":12,"s":"+","t":235,"v":0.98},
{"p":16,"s":"+","t":15,"v":0.99},{"p":16,"s":"+","t":35,"v":1.0},{"p":16,"s":"+","t":55,"v":1.0},{"p":16,"s":"+","t":75,"v":1.01},{"p":16,"s":"+","t":95,"v":0.98},{"p":16,"s":"+","t":115,"v":1.0},{"p":16,"s":"+","t":135,"v":1.01},{"p":16,"s":"+","t":155,"v":0.99},{"p":16,"s":"+","t":175,"v":1.0},{"p":16,"s":"+","t":195,"v":0.99},{"p":16,"s":"+","t":215,"v":1.0},{"p":16,"s":"+","t":235,"v":0.97},
{"p":20,"s":"+","t":15,"v":1.0},{"p":20,"s":"+","t":35,"v":0.99},{"p":20,"s":"+","t":55,"v":1.01},{"p":20,"s":"+","t":75,"v":1.0},{"p":20,"s":"+","t":95,"v":0.99},{"p":20,"s":"+","t":115,"v":1.01},{"p":20,"s":"+","t":135,"v":0.99},{"p":20,"s":"+","t":155,"v":1.0},{"p":20,"s":"+","t":175,"v":0.98},{"p":20,"s":"+","t":195,"v":1.0},{"p":20,"s":"+","t":215,"v":0.99},{"p":20,"s":"+","t":235,"v":0.99},
{"p":9,"s":"+","t":15,"v":1.08},{"p":9,"s":"+","t":35,"v":1.06},{"p":9,"s":"+","t":55,"v":1.1},{"p":9,"s":"+","t":75,"v":1.07},{"p":9,"s":"+","t":95,"v":1.09},{"p":9,"s":"+","t":115,"v":1.04},{"p":9,"s":"+","t":135,"v":1.01},{"p":9,"s":"+","t":155,"v":1.03},{"p":9,"s":"+","t":175,"v":0.98},{"p":9,"s":"+","t":195,"v":1.02},{"p":9,"s":"+","t":215,"v":1.05},{"p":9,"s":"+","t":235,"v":0.99},
{"p":13,"s":"+","t":15,"v":1.09},{"p":13,"s":"+","t":35,"v":1.07},{"p":13,"s":"+","t":55,"v":1.1},{"p":13,"s":"+","t":75,"v":1.08},{"p":13,"s":"+","t":95,"v":1.06},{"p":13,"s":"+","t":115,"v":1.08},{"p":13,"s":"+","t":135,"v":1.04},{"p":13,"s":"+","t":155,"v":1.02},{"p":13,"s":"+","t":175,"v":1.05},{"p":13,"s":"+","t":195,"v":1.0},{"p":13,"s":"+","t":215,"v":1.03},{"p":13,"s":"+","t":235,"v":1.0},
{"p":17,"s":"+","t":15,"v":1.07},{"p":17,"s":"+","t":35,"v":1.09},{"p":17,"s":"+","t":55,"v":1.05},{"p":17,"s":"+","t":75,"v":1.08},{"p":17,"s":"+","t":95,"v":1.06},{"p":17,"s":"+","t":115,"v":1.05},{"p":17,"s":"+","t":135,"v":1.07},{"p":17,"s":"+","t":155,"v":1.03},{"p":17,"s":"+","t":175,"v":1.04},{"p":17,"s":"+","t":195,"v":1.01},{"p":17,"s":"+","t":215,"v":1.03},{"p":17,"s":"+","t":235,"v":1.0},
{"p":21,"s":"+","t":15,"v":1.05},{"p":21,"s":"+","t":35,"v":1.03},{"p":21,"s":"+","t":55,"v":1.06},{"p":21,"s":"+","t":75,"v":1.04},{"p":21,"s":"+","t":95,"v":1.05},{"p":21,"s":"+","t":115,"v":1.03},{"p":21,"s":"+","t":135,"v":1.04},{"p":21,"s":"+","t":155,"v":1.02},{"p":21,"s":"+","t":175,"v":1.04},{"p":21,"s":"+","t":195,"v":1.02},{"p":21,"s":"+","t":215,"v":1.03},{"p":21,"s":"+","t":235,"v":1.01},
{"p":6,"s":"+","t":15,"v":1.07},{"p":6,"s":"+","t":35,"v":1.05},{"p":6,"s":"+","t":55,"v":1.08},{"p":6,"s":"+","t":75,"v":1.06},{"p":6,"s":"+","t":95,"v":1.09},{"p":6,"s":"+","t":115,"v":1.05},{"p":6,"s":"+","t":135,"v":1.08},{"p":6,"s":"+","t":155,"v":1.06},{"p":6,"s":"+","t":175,"v":1.05},{"p":6,"s":"+","t":195,"v":1.08},{"p":6,"s":"+","t":215,"v":1.04},{"p":6,"s":"+","t":235,"v":1.06},
{"p":10,"s":"+","t":15,"v":1.08},{"p":10,"s":"+","t":35,"v":1.06},{"p":10,"s":"+","t":55,"v":1.09},{"p":10,"s":"+","t":75,"v":1.07},{"p":10,"s":"+","t":95,"v":1.05},{"p":10,"s":"+","t":115,"v":1.09},{"p":10,"s":"+","t":135,"v":1.06},{"p":10,"s":"+","t":155,"v":1.07},{"p":10,"s":"+","t":175,"v":1.09},{"p":10,"s":"+","t":195,"v":1.06},{"p":10,"s":"+","t":215,"v":1.08},{"p":10,"s":"+","t":235,"v":1.04},
{"p":14,"s":"+","t":15,"v":1.06},{"p":14,"s":"+","t":35,"v":1.09},{"p":14,"s":"+","t":55,"v":1.07},{"p":14,"s":"+","t":75,"v":1.1},{"p":14,"s":"+","t":95,"v":1.06},{"p":14,"s":"+","t":115,"v":1.08},{"p":14,"s":"+","t":135,"v":1.06},{"p":14,"s":"+","t":155,"v":1.09},{"p":14,"s":"+","t":175,"v":1.05},{"p":14,"s":"+","t":195,"v":1.07},{"p":14,"s":"+","t":215,"v":1.05},{"p":14,"s":"+","t":235,"v":1.06},

{"p":0,"s":"^","t":14,"v":0.0},{"p":0,"s":"^","t":34,"v":-0.01},{"p":0,"s":"^","t":54,"v":0.02},{"p":0,"s":"^","t":74,"v":0.04},{"p":0,"s":"^","t":94,"v":0.03},{"p":0,"s":"^","t":114,"v":0.0},{"p":0,"s":"^","t":134,"v":-0.03},{"p":0,"s":"^","t":154,"v":-0.02},{"p":0,"s":"^","t":174,"v":0.01},{"p":0,"s":"^","t":194,"v":0.0},{"p":0,"s":"^","t":214,"v":0.0},{"p":0,"s":"^","t":234,"v":0.02},{"p":0,"s":"^","t":254,"v":0.01},{"p":0,"s":"^","t":274,"v":-0.01},{"p":0,"s":"^","t":294,"v":-0.01},{"p":0,"s":"^","t":314,"v":0.01},{"p":0,"s":"^","t":334,"v":0.0},{"p":0,"s":"^","t":354,"v":0.0},{"p":0,"s":"^","t":374,"v":0.01},
{"p":4,"s":"^","t":14,"v":0.0},{"p":4,"s":"^","t":34,"v":-0.01},{"p":4,"s":"^","t":54,"v":-0.01},{"p":4,"s":"^","t":74,"v":0.01},{"p":4,"s":"^","t":94,"v":0.0},{"p":4,"s":"^","t":114,"v":0.0},{"p":4,"s":"^","t":134,"v":0.02},{"p":4,"s":"^","t":154,"v":0.01},{"p":4,"s":"^","t":174,"v":0.0},{"p":4,"s":"^","t":194,"v":0.03},{"p":4,"s":"^","t":214,"v":0.02},{"p":4,"s":"^","t":234,"v":-0.01},{"p":4,"s":"^","t":254,"v":0.0},{"p":4,"s":"^","t":274,"v":0.02},{"p":4,"s":"^","t":294,"v":0.01},{"p":4,"s":"^","t":314,"v":-0.01},{"p":4,"s":"^","t":334,"v":0.0},{"p":4,"s":"^","t":354,"v":0.01},{"p":4,"s":"^","t":374,"v":-0.01},
{"p":8,"s":"^","t":14,"v":0.01},{"p":8,"s":"^","t":34,"v":0.0},{"p":8,"s":"^","t":54,"v":0.0},{"p":8,"s":"^","t":74,"v":0.02},{"p":8,"s":"^","t":94,"v":0.01},{"p":8,"s":"^","t":114,"v":-0.01},{"p":8,"s":"^","t":134,"v":0.0},{"p":8,"s":"^","t":154,"v":0.03},{"p":8,"s":"^","t":174,"v":0.03},{"p":8,"s":"^","t":194,"v":0.04},{"p":8,"s":"^","t":214,"v":0.03},{"p":8,"s":"^","t":234,"v":0.0},{"p":8,"s":"^","t":254,"v":0.0},{"p":8,"s":"^","t":274,"v":0.01},{"p":8,"s":"^","t":294,"v":-0.01},{"p":8,"s":"^","t":314,"v":-0.01},{"p":8,"s":"^","t":334,"v":0.01},{"p":8,"s":"^","t":354,"v":0.01},{"p":8,"s":"^","t":374,"v":-0.01},
{"p":12,"s":"^","t":14,"v":-0.01},{"p":12,"s":"^","t":34,"v":0.0},{"p":12,"s":"^","t":54,"v":-0.01},{"p":12,"s":"^","t":74,"v":-0.01},{"p":12,"s":"^","t":94,"v":0.01},{"p":12,"s":"^","t":114,"v":0.01},{"p":12,"s":"^","t":134,"v":-0.01},{"p":12,"s":"^","t":154,"v":0.0},{"p":12,"s":"^","t":174,"v":0.03},{"p":12,"s":"^","t":194,"v":0.02},{"p":12,"s":"^","t":214,"v":-0.01},{"p":12,"s":"^","t":234,"v":0.0},{"p":12,"s":"^","t":254,"v":0.02},{"p":12,"s":"^","t":274,"v":0.01},{"p":12,"s":"^","t":294,"v":-0.01},{"p":12,"s":"^","t":314,"v":0.0},{"p":12,"s":"^","t":334,"v":0.0},{"p":12,"s":"^","t":354,"v":-0.01},{"p":12,"s":"^","t":374,"v":-0.01},
{"p":16,"s":"^","t":14,"v":0.03},{"p":16,"s":"^","t":34,"v":0.04},{"p":16,"s":"^","t":54,"v":0.03},{"p":16,"s":"^","t":74,"v":0.03},{"p":16,"s":"^","t":94,"v":0.02},{"p":16,"s":"^","t":114,"v":0.02},{"p":16,"s":"^","t":134,"v":0.01},{"p":16,"s":"^","t":154,"v":-0.01},{"p":16,"s":"^","t":174,"v":0.0},{"p":16,"s":"^","t":194,"v":0.0},{"p":16,"s":"^","t":214,"v":0.01},{"p":16,"s":"^","t":234,"v":0.01},{"p":16,"s":"^","t":254,"v":-0.01},{"p":16,"s":"^","t":274,"v":-0.01},{"p":16,"s":"^","t":294,"v":0.0},{"p":16,"s":"^","t":314,"v":-0.01},{"p":16,"s":"^","t":334,"v":-0.01},{"p":16,"s":"^","t":354,"v":-0.01},{"p":16,"s":"^","t":374,"v":-0.01},
{"p":20,"s":"^","t":14,"v":0.04},{"p":20,"s":"^","t":34,"v":0.04},{"p":20,"s":"^","t":54,"v":0.05},{"p":20,"s":"^","t":74,"v":0.04},{"p":20,"s":"^","t":94,"v":0.02},{"p":20,"s":"^","t":114,"v":0.0},{"p":20,"s":"^","t":134,"v":-0.04},{"p":20,"s":"^","t":154,"v":-0.06},{"p":20,"s":"^","t":174,"v":-0.05},{"p":20,"s":"^","t":194,"v":-0.05},{"p":20,"s":"^","t":214,"v":-0.04},{"p":20,"s":"^","t":234,"v":-0.02},{"p":20,"s":"^","t":254,"v":-0.03},{"p":20,"s":"^","t":274,"v":-0.02},{"p":20,"s":"^","t":294,"v":0.0},{"p":20,"s":"^","t":314,"v":-0.01},{"p":20,"s":"^","t":334,"v":-0.01},{"p":20,"s":"^","t":354,"v":0.0},{"p":20,"s":"^","t":374,"v":0.0}
]},
"spacing":0,
"bounds":"flush",
"hconcat":[
{
"transform":[{"filter":"datum.s=='L' && datum.p%4==0"},{"calculate":"floor(datum.p/4)","as":"r"}],
"facet":{"row":{"field":"r","type":"ordinal","header":null}},
"spacing":0,
"bounds":"flush",
"spec":{"width":1,"height":246,"view":{"stroke":null},
"mark":{"type":"point","opacity":0},
"encoding":{"y":{"field":"t","type":"quantitative","scale":{"domain":[0,400],"reverse":true,"nice":false,"zero":false},
"axis":{"values":[0,100,200,300],"labels":true,"ticks":false,"domain":false,"labelAngle":90,"labelAlign":"center","labelBaseline":"top","labelFont":"Liberation Sans","labelFontSize":25,"labelColor":"black","labelPadding":13,"labelFlush":false,"labelOverlap":false,"labelBound":false,"title":"Time (msec)","titleAngle":90,"titleBaseline":"top","titleFont":"Liberation Sans","titleFontSize":30,"titleFontWeight":"normal","titleColor":"black","titlePadding":9}}}}
},
{
"transform":[{"calculate":"floor(datum.p/4)","as":"r"},{"calculate":"datum.p%4","as":"c"}],
"facet":{"row":{"field":"r","type":"ordinal","header":null},"column":{"field":"c","type":"ordinal","header":null}},
"spacing":0,
"bounds":"flush",
"resolve":{"axis":{"x":"independent","y":"independent"}},
"spec":{"width":251,"height":246,
"resolve":{"axis":{"x":"independent","y":"independent"}},
"layer":[
{"transform":[{"filter":"datum.s=='L'"}],
"mark":{"type":"line","color":"black","strokeWidth":2.5,"clip":true},
"encoding":{
"x":{"field":"v","type":"quantitative","scale":{"domain":[-0.25,1.5],"nice":false,"zero":false},"axis":{"orient":"bottom","values":[0,0.5,1],"tickSize":-7,"title":null}},
"y":{"field":"t","type":"quantitative","scale":{"domain":[0,400],"reverse":true,"nice":false,"zero":false},"axis":{"orient":"left","values":[100,200,300],"tickSize":-7,"title":null}},
"order":{"field":"t","type":"quantitative"}}},
{"transform":[{"filter":"datum.s=='+'"}],
"mark":{"type":"point","shape":"M-1,0H1M0,-1V1","size":180,"strokeWidth":3,"color":"black","filled":false,"opacity":1,"clip":true},
"encoding":{
"x":{"field":"v","type":"quantitative","axis":{"orient":"top","values":[0,0.5,1],"tickSize":-7,"title":null}},
"y":{"field":"t","type":"quantitative","axis":{"orient":"right","values":[100,200,300],"tickSize":-7,"title":null}}}},
{"transform":[{"filter":"datum.s=='^'"}],
"mark":{"type":"point","shape":"triangle-right","size":120,"strokeWidth":2.6,"color":"black","filled":false,"opacity":1,"clip":true},
"encoding":{
"x":{"field":"v","type":"quantitative","axis":{"orient":"bottom","values":[-0.2,-0.1,0.1,0.2,0.3,0.4,0.6,0.7,0.8,0.9,1.1,1.2,1.3,1.4],"tickSize":-3.5,"title":null}},
"y":{"field":"t","type":"quantitative","axis":{"orient":"left","values":[20,40,60,80,120,140,160,180,220,240,260,280,320,340,360,380],"tickSize":-3.5,"title":null}}}},
{"transform":[{"filter":"datum.s=='T'"}],
"mark":{"type":"text","angle":90,"align":"left","baseline":"alphabetic","font":"Liberation Sans","fontSize":34,"color":"black"},
"encoding":{
"x":{"datum":1.3,"type":"quantitative","axis":{"orient":"top","values":[-0.2,-0.1,0.1,0.2,0.3,0.4,0.6,0.7,0.8,0.9,1.1,1.2,1.3,1.4],"tickSize":-3.5,"title":null}},
"y":{"datum":52,"type":"quantitative","axis":{"orient":"right","values":[20,40,60,80,120,140,160,180,220,240,260,280,320,340,360,380],"tickSize":-3.5,"title":null}},
"text":{"field":"w"}}}
]}
}
]
}
